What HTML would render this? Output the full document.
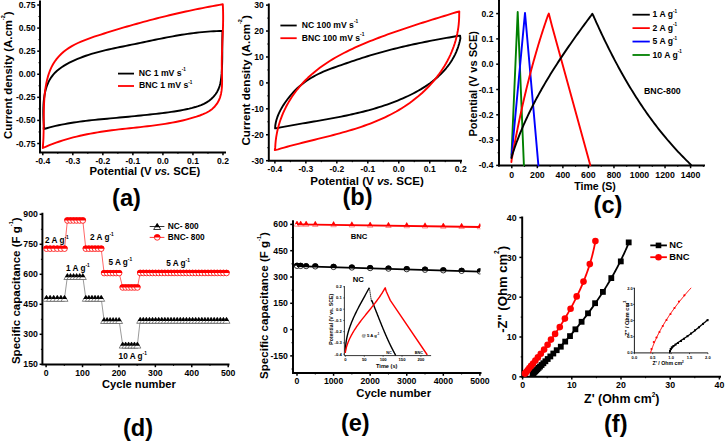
<!DOCTYPE html>
<html><head><meta charset="utf-8"><style>
html,body{margin:0;padding:0;background:#fff;width:725px;height:441px;overflow:hidden}
svg{display:block}
</style></head><body>
<svg width="725" height="441" viewBox="0 0 725 441">
<rect width="725" height="441" fill="#fff"/>
<path d="M40.00,1.50 L40.00,152.40 L225.00,152.40" fill="none" stroke="#000" stroke-width="1.95" stroke-linecap="square" stroke-linejoin="miter"/>
<line x1="37.20" y1="5.00" x2="40.00" y2="5.00" stroke="#000" stroke-width="1.5" stroke-linecap="butt"/>
<line x1="37.20" y1="28.09" x2="40.00" y2="28.09" stroke="#000" stroke-width="1.5" stroke-linecap="butt"/>
<line x1="37.20" y1="51.17" x2="40.00" y2="51.17" stroke="#000" stroke-width="1.5" stroke-linecap="butt"/>
<line x1="37.20" y1="74.25" x2="40.00" y2="74.25" stroke="#000" stroke-width="1.5" stroke-linecap="butt"/>
<line x1="37.20" y1="97.33" x2="40.00" y2="97.33" stroke="#000" stroke-width="1.5" stroke-linecap="butt"/>
<line x1="37.20" y1="120.41" x2="40.00" y2="120.41" stroke="#000" stroke-width="1.5" stroke-linecap="butt"/>
<line x1="37.20" y1="143.50" x2="40.00" y2="143.50" stroke="#000" stroke-width="1.5" stroke-linecap="butt"/>
<line x1="38.50" y1="16.54" x2="40.00" y2="16.54" stroke="#000" stroke-width="1" stroke-linecap="butt"/>
<line x1="38.50" y1="39.63" x2="40.00" y2="39.63" stroke="#000" stroke-width="1" stroke-linecap="butt"/>
<line x1="38.50" y1="62.71" x2="40.00" y2="62.71" stroke="#000" stroke-width="1" stroke-linecap="butt"/>
<line x1="38.50" y1="85.79" x2="40.00" y2="85.79" stroke="#000" stroke-width="1" stroke-linecap="butt"/>
<line x1="38.50" y1="108.87" x2="40.00" y2="108.87" stroke="#000" stroke-width="1" stroke-linecap="butt"/>
<line x1="38.50" y1="131.96" x2="40.00" y2="131.96" stroke="#000" stroke-width="1" stroke-linecap="butt"/>
<line x1="42.80" y1="152.40" x2="42.80" y2="155.20" stroke="#000" stroke-width="1.5" stroke-linecap="butt"/>
<line x1="72.83" y1="152.40" x2="72.83" y2="155.20" stroke="#000" stroke-width="1.5" stroke-linecap="butt"/>
<line x1="102.86" y1="152.40" x2="102.86" y2="155.20" stroke="#000" stroke-width="1.5" stroke-linecap="butt"/>
<line x1="132.89" y1="152.40" x2="132.89" y2="155.20" stroke="#000" stroke-width="1.5" stroke-linecap="butt"/>
<line x1="162.92" y1="152.40" x2="162.92" y2="155.20" stroke="#000" stroke-width="1.5" stroke-linecap="butt"/>
<line x1="192.95" y1="152.40" x2="192.95" y2="155.20" stroke="#000" stroke-width="1.5" stroke-linecap="butt"/>
<line x1="222.98" y1="152.40" x2="222.98" y2="155.20" stroke="#000" stroke-width="1.5" stroke-linecap="butt"/>
<line x1="57.81" y1="152.40" x2="57.81" y2="153.90" stroke="#000" stroke-width="1" stroke-linecap="butt"/>
<line x1="87.84" y1="152.40" x2="87.84" y2="153.90" stroke="#000" stroke-width="1" stroke-linecap="butt"/>
<line x1="117.88" y1="152.40" x2="117.88" y2="153.90" stroke="#000" stroke-width="1" stroke-linecap="butt"/>
<line x1="147.91" y1="152.40" x2="147.91" y2="153.90" stroke="#000" stroke-width="1" stroke-linecap="butt"/>
<line x1="177.94" y1="152.40" x2="177.94" y2="153.90" stroke="#000" stroke-width="1" stroke-linecap="butt"/>
<line x1="207.97" y1="152.40" x2="207.97" y2="153.90" stroke="#000" stroke-width="1" stroke-linecap="butt"/>
<text x="35.50" y="8.00" font-size="8.55" text-anchor="end" fill="#000" font-family="Liberation Sans" font-weight="bold" >0.75</text>
<text x="35.50" y="31.09" font-size="8.55" text-anchor="end" fill="#000" font-family="Liberation Sans" font-weight="bold" >0.50</text>
<text x="35.50" y="54.17" font-size="8.55" text-anchor="end" fill="#000" font-family="Liberation Sans" font-weight="bold" >0.25</text>
<text x="35.50" y="77.25" font-size="8.55" text-anchor="end" fill="#000" font-family="Liberation Sans" font-weight="bold" >0.00</text>
<text x="35.50" y="100.33" font-size="8.55" text-anchor="end" fill="#000" font-family="Liberation Sans" font-weight="bold" >-0.25</text>
<text x="35.50" y="123.41" font-size="8.55" text-anchor="end" fill="#000" font-family="Liberation Sans" font-weight="bold" >-0.50</text>
<text x="35.50" y="146.50" font-size="8.55" text-anchor="end" fill="#000" font-family="Liberation Sans" font-weight="bold" >-0.75</text>
<text x="42.80" y="163.80" font-size="8.55" text-anchor="middle" fill="#000" font-family="Liberation Sans" font-weight="bold" >-0.4</text>
<text x="72.83" y="163.80" font-size="8.55" text-anchor="middle" fill="#000" font-family="Liberation Sans" font-weight="bold" >-0.3</text>
<text x="102.86" y="163.80" font-size="8.55" text-anchor="middle" fill="#000" font-family="Liberation Sans" font-weight="bold" >-0.2</text>
<text x="132.89" y="163.80" font-size="8.55" text-anchor="middle" fill="#000" font-family="Liberation Sans" font-weight="bold" >-0.1</text>
<text x="162.92" y="163.80" font-size="8.55" text-anchor="middle" fill="#000" font-family="Liberation Sans" font-weight="bold" >0.0</text>
<text x="192.95" y="163.80" font-size="8.55" text-anchor="middle" fill="#000" font-family="Liberation Sans" font-weight="bold" >0.1</text>
<text x="222.98" y="163.80" font-size="8.55" text-anchor="middle" fill="#000" font-family="Liberation Sans" font-weight="bold" >0.2</text>
<text x="144.90" y="175.30" font-size="11.25" text-anchor="middle" fill="#000" font-family="Liberation Sans" font-weight="bold" >Potential (V <tspan font-style="italic">vs.</tspan> SCE)</text>
<text transform="translate(12.20,75.15) rotate(-90)" font-size="11.38" text-anchor="middle" fill="#000" font-family="Liberation Sans" font-weight="bold">Current density (A.cm<tspan font-size="5.6" dy="-7.30">-2</tspan><tspan dy="7.30">)</tspan></text>
<text x="126.50" y="205.50" font-size="23.6" text-anchor="middle" fill="#000" font-family="Liberation Sans" font-weight="bold" >(a)</text>
<line x1="118.00" y1="73.60" x2="134.00" y2="73.60" stroke="#000" stroke-width="1.8" stroke-linecap="butt"/>
<line x1="118.00" y1="86.00" x2="134.00" y2="86.00" stroke="#ff0000" stroke-width="1.8" stroke-linecap="butt"/>
<text x="138.70" y="75.60" font-size="8.7" text-anchor="start" fill="#000" font-family="Liberation Sans" font-weight="bold" >NC 1 mV s<tspan font-size="4.6" dy="-4.30">-1</tspan></text>
<text x="139.00" y="88.10" font-size="8.7" text-anchor="start" fill="#000" font-family="Liberation Sans" font-weight="bold" >BNC 1 mV s<tspan font-size="4.6" dy="-4.30">-1</tspan></text>
<path d="M43.70,129.00 L43.86,126.27 L43.68,123.29 L43.52,120.27 L43.39,117.21 L43.31,114.13 L43.29,111.04 L43.34,107.95 L43.46,104.87 L43.67,101.81 L43.98,98.78 L44.40,95.79 L44.95,92.86 L45.62,90.00 L46.44,87.21 L47.41,84.52 L48.55,81.92 L49.87,79.43 L51.37,77.06 L53.07,74.83 L54.97,72.73 L57.05,70.77 L59.28,68.93 L61.65,67.21 L64.14,65.59 L66.72,64.08 L69.38,62.66 L72.08,61.33 L74.81,60.08 L77.56,58.90 L80.32,57.79 L83.09,56.74 L85.87,55.75 L88.67,54.82 L91.47,53.94 L94.29,53.10 L97.12,52.31 L99.95,51.56 L102.80,50.84 L105.65,50.16 L108.52,49.50 L111.39,48.86 L114.27,48.24 L117.15,47.64 L120.05,47.04 L122.95,46.45 L125.85,45.86 L128.76,45.27 L131.68,44.67 L134.60,44.07 L137.53,43.46 L140.45,42.85 L143.39,42.23 L146.32,41.62 L149.26,41.00 L152.20,40.39 L155.14,39.78 L158.09,39.18 L161.03,38.59 L163.98,38.00 L166.92,37.43 L169.87,36.88 L172.81,36.33 L175.75,35.81 L178.70,35.30 L181.63,34.81 L184.57,34.34 L187.51,33.90 L190.44,33.48 L193.36,33.09 L196.29,32.73 L199.20,32.40 L202.12,32.10 L205.03,31.83 L207.93,31.60 L210.83,31.40 L213.71,31.25 L216.60,31.13 L219.47,31.06 L222.50,31.00 L222.50,31.00 L222.41,34.07 L222.35,37.13 L222.31,40.19 L222.30,43.25 L222.29,46.31 L222.29,49.36 L222.29,52.42 L222.27,55.48 L222.24,58.54 L222.18,61.61 L222.10,64.68 L221.97,67.75 L221.80,70.83 L221.58,73.92 L221.29,77.01 L220.91,80.09 L220.36,83.13 L219.60,86.10 L218.56,88.96 L217.21,91.69 L215.56,94.26 L213.64,96.63 L211.49,98.79 L209.13,100.72 L206.59,102.40 L203.91,103.83 L201.11,105.06 L198.22,106.11 L195.27,107.04 L192.29,107.86 L189.30,108.61 L186.31,109.29 L183.31,109.91 L180.30,110.48 L177.29,111.00 L174.28,111.48 L171.25,111.93 L168.23,112.34 L165.19,112.73 L162.16,113.11 L159.12,113.47 L156.08,113.82 L153.03,114.17 L149.98,114.50 L146.93,114.83 L143.87,115.16 L140.82,115.48 L137.76,115.79 L134.70,116.10 L131.64,116.40 L128.57,116.70 L125.51,116.99 L122.45,117.28 L119.39,117.57 L116.32,117.85 L113.26,118.13 L110.20,118.41 L107.14,118.68 L104.08,118.97 L101.03,119.26 L97.97,119.55 L94.92,119.86 L91.87,120.18 L88.83,120.52 L85.79,120.87 L82.75,121.25 L79.71,121.64 L76.68,122.07 L73.66,122.52 L70.64,123.00 L67.62,123.51 L64.61,124.06 L61.61,124.65 L58.61,125.27 L55.62,125.94 L52.63,126.65 L49.66,127.41 L46.69,128.22 L43.70,129.00" fill="none" stroke="#000" stroke-width="1.9" stroke-linejoin="round" stroke-linecap="round" />
<path d="M42.80,148.00 L43.02,144.79 L43.25,141.63 L43.42,138.39 L43.53,135.09 L43.61,131.73 L43.66,128.33 L43.69,124.88 L43.71,121.40 L43.73,117.89 L43.77,114.36 L43.83,110.82 L43.92,107.28 L44.05,103.74 L44.24,100.21 L44.50,96.69 L44.83,93.21 L45.24,89.75 L45.76,86.34 L46.38,82.97 L47.11,79.66 L47.97,76.41 L48.98,73.24 L50.15,70.15 L51.49,67.15 L53.02,64.26 L54.76,61.49 L56.70,58.84 L58.84,56.34 L61.15,53.98 L63.62,51.79 L66.24,49.75 L68.99,47.87 L71.86,46.13 L74.84,44.51 L77.91,43.00 L81.06,41.60 L84.27,40.28 L87.53,39.04 L90.84,37.85 L94.16,36.72 L97.50,35.63 L100.84,34.55 L104.16,33.50 L107.47,32.46 L110.77,31.43 L114.06,30.42 L117.35,29.42 L120.62,28.43 L123.89,27.46 L127.15,26.51 L130.40,25.56 L133.65,24.63 L136.90,23.72 L140.15,22.82 L143.39,21.93 L146.63,21.05 L149.87,20.19 L153.11,19.34 L156.35,18.50 L159.60,17.67 L162.85,16.86 L166.10,16.06 L169.36,15.28 L172.62,14.50 L175.89,13.74 L179.17,12.99 L182.46,12.25 L185.75,11.52 L189.06,10.81 L192.38,10.10 L195.70,9.41 L199.05,8.73 L202.40,8.06 L205.77,7.40 L209.16,6.75 L212.56,6.12 L215.98,5.49 L219.42,4.88 L222.80,4.30 L222.80,4.30 L222.97,8.05 L223.08,11.74 L223.13,15.39 L223.14,19.00 L223.09,22.57 L223.02,26.11 L222.91,29.63 L222.78,33.12 L222.64,36.61 L222.49,40.09 L222.34,43.56 L222.19,47.05 L222.06,50.54 L221.94,54.05 L221.85,57.58 L221.80,61.14 L221.78,64.74 L221.82,68.38 L221.90,72.06 L222.01,75.78 L222.08,79.50 L222.08,83.20 L221.93,86.87 L221.60,90.46 L221.01,93.96 L220.10,97.35 L218.78,100.59 L217.00,103.65 L214.81,106.45 L212.28,108.92 L209.45,111.01 L206.39,112.75 L203.16,114.22 L199.81,115.50 L196.41,116.64 L192.98,117.70 L189.54,118.69 L186.09,119.61 L182.62,120.46 L179.14,121.25 L175.65,121.98 L172.15,122.65 L168.64,123.28 L165.11,123.86 L161.58,124.41 L158.04,124.92 L154.50,125.39 L150.95,125.84 L147.39,126.27 L143.83,126.68 L140.27,127.08 L136.70,127.46 L133.14,127.85 L129.57,128.23 L126.00,128.61 L122.43,129.01 L118.87,129.42 L115.31,129.84 L111.75,130.29 L108.20,130.76 L104.65,131.26 L101.12,131.78 L97.58,132.34 L94.06,132.94 L90.54,133.58 L87.04,134.25 L83.55,134.97 L80.06,135.74 L76.60,136.56 L73.14,137.43 L69.70,138.35 L66.27,139.33 L62.87,140.38 L59.47,141.48 L56.10,142.65 L52.75,143.89 L49.41,145.21 L46.10,146.59 L42.80,148.00" fill="none" stroke="#ff0000" stroke-width="1.9" stroke-linejoin="round" stroke-linecap="round" />
<path d="M268.80,4.50 L268.80,160.70 L461.00,160.70" fill="none" stroke="#000" stroke-width="1.95" stroke-linecap="square" stroke-linejoin="miter"/>
<line x1="266.00" y1="5.11" x2="268.80" y2="5.11" stroke="#000" stroke-width="1.5" stroke-linecap="butt"/>
<line x1="266.00" y1="31.04" x2="268.80" y2="31.04" stroke="#000" stroke-width="1.5" stroke-linecap="butt"/>
<line x1="266.00" y1="56.97" x2="268.80" y2="56.97" stroke="#000" stroke-width="1.5" stroke-linecap="butt"/>
<line x1="266.00" y1="82.90" x2="268.80" y2="82.90" stroke="#000" stroke-width="1.5" stroke-linecap="butt"/>
<line x1="266.00" y1="108.83" x2="268.80" y2="108.83" stroke="#000" stroke-width="1.5" stroke-linecap="butt"/>
<line x1="266.00" y1="134.76" x2="268.80" y2="134.76" stroke="#000" stroke-width="1.5" stroke-linecap="butt"/>
<line x1="266.00" y1="160.69" x2="268.80" y2="160.69" stroke="#000" stroke-width="1.5" stroke-linecap="butt"/>
<line x1="267.30" y1="18.08" x2="268.80" y2="18.08" stroke="#000" stroke-width="1" stroke-linecap="butt"/>
<line x1="267.30" y1="44.01" x2="268.80" y2="44.01" stroke="#000" stroke-width="1" stroke-linecap="butt"/>
<line x1="267.30" y1="69.94" x2="268.80" y2="69.94" stroke="#000" stroke-width="1" stroke-linecap="butt"/>
<line x1="267.30" y1="95.87" x2="268.80" y2="95.87" stroke="#000" stroke-width="1" stroke-linecap="butt"/>
<line x1="267.30" y1="121.80" x2="268.80" y2="121.80" stroke="#000" stroke-width="1" stroke-linecap="butt"/>
<line x1="267.30" y1="147.73" x2="268.80" y2="147.73" stroke="#000" stroke-width="1" stroke-linecap="butt"/>
<line x1="274.90" y1="160.70" x2="274.90" y2="163.50" stroke="#000" stroke-width="1.5" stroke-linecap="butt"/>
<line x1="305.87" y1="160.70" x2="305.87" y2="163.50" stroke="#000" stroke-width="1.5" stroke-linecap="butt"/>
<line x1="336.84" y1="160.70" x2="336.84" y2="163.50" stroke="#000" stroke-width="1.5" stroke-linecap="butt"/>
<line x1="367.81" y1="160.70" x2="367.81" y2="163.50" stroke="#000" stroke-width="1.5" stroke-linecap="butt"/>
<line x1="398.78" y1="160.70" x2="398.78" y2="163.50" stroke="#000" stroke-width="1.5" stroke-linecap="butt"/>
<line x1="429.75" y1="160.70" x2="429.75" y2="163.50" stroke="#000" stroke-width="1.5" stroke-linecap="butt"/>
<line x1="460.72" y1="160.70" x2="460.72" y2="163.50" stroke="#000" stroke-width="1.5" stroke-linecap="butt"/>
<line x1="290.38" y1="160.70" x2="290.38" y2="162.20" stroke="#000" stroke-width="1" stroke-linecap="butt"/>
<line x1="321.35" y1="160.70" x2="321.35" y2="162.20" stroke="#000" stroke-width="1" stroke-linecap="butt"/>
<line x1="352.32" y1="160.70" x2="352.32" y2="162.20" stroke="#000" stroke-width="1" stroke-linecap="butt"/>
<line x1="383.29" y1="160.70" x2="383.29" y2="162.20" stroke="#000" stroke-width="1" stroke-linecap="butt"/>
<line x1="414.26" y1="160.70" x2="414.26" y2="162.20" stroke="#000" stroke-width="1" stroke-linecap="butt"/>
<line x1="445.24" y1="160.70" x2="445.24" y2="162.20" stroke="#000" stroke-width="1" stroke-linecap="butt"/>
<text x="263.80" y="8.11" font-size="8.6" text-anchor="end" fill="#000" font-family="Liberation Sans" font-weight="bold" >30</text>
<text x="263.80" y="34.04" font-size="8.6" text-anchor="end" fill="#000" font-family="Liberation Sans" font-weight="bold" >20</text>
<text x="263.80" y="59.97" font-size="8.6" text-anchor="end" fill="#000" font-family="Liberation Sans" font-weight="bold" >10</text>
<text x="263.80" y="85.90" font-size="8.6" text-anchor="end" fill="#000" font-family="Liberation Sans" font-weight="bold" >0</text>
<text x="263.80" y="111.83" font-size="8.6" text-anchor="end" fill="#000" font-family="Liberation Sans" font-weight="bold" >-10</text>
<text x="263.80" y="137.76" font-size="8.6" text-anchor="end" fill="#000" font-family="Liberation Sans" font-weight="bold" >-20</text>
<text x="263.80" y="163.69" font-size="8.6" text-anchor="end" fill="#000" font-family="Liberation Sans" font-weight="bold" >-30</text>
<text x="274.90" y="172.30" font-size="8.55" text-anchor="middle" fill="#000" font-family="Liberation Sans" font-weight="bold" >-0.4</text>
<text x="305.87" y="172.30" font-size="8.55" text-anchor="middle" fill="#000" font-family="Liberation Sans" font-weight="bold" >-0.3</text>
<text x="336.84" y="172.30" font-size="8.55" text-anchor="middle" fill="#000" font-family="Liberation Sans" font-weight="bold" >-0.2</text>
<text x="367.81" y="172.30" font-size="8.55" text-anchor="middle" fill="#000" font-family="Liberation Sans" font-weight="bold" >-0.1</text>
<text x="398.78" y="172.30" font-size="8.55" text-anchor="middle" fill="#000" font-family="Liberation Sans" font-weight="bold" >0.0</text>
<text x="429.75" y="172.30" font-size="8.55" text-anchor="middle" fill="#000" font-family="Liberation Sans" font-weight="bold" >0.1</text>
<text x="460.72" y="172.30" font-size="8.55" text-anchor="middle" fill="#000" font-family="Liberation Sans" font-weight="bold" >0.2</text>
<text x="367.00" y="184.80" font-size="11.55" text-anchor="middle" fill="#000" font-family="Liberation Sans" font-weight="bold" >Potential (V <tspan font-style="italic">vs.</tspan> SCE)</text>
<text transform="translate(249.60,80.35) rotate(-90)" font-size="11.65" text-anchor="middle" fill="#000" font-family="Liberation Sans" font-weight="bold">Current density (A.cm<tspan font-size="5.6" dy="-7.30">-2</tspan><tspan dy="7.30">)</tspan></text>
<text x="357.50" y="205.00" font-size="23.6" text-anchor="middle" fill="#000" font-family="Liberation Sans" font-weight="bold" >(b)</text>
<line x1="280.40" y1="25.50" x2="296.70" y2="25.50" stroke="#000" stroke-width="1.8" stroke-linecap="butt"/>
<line x1="280.40" y1="38.20" x2="296.70" y2="38.20" stroke="#ff0000" stroke-width="1.8" stroke-linecap="butt"/>
<text x="301.80" y="27.80" font-size="8.6" text-anchor="start" fill="#000" font-family="Liberation Sans" font-weight="bold" >NC 100 mV s<tspan font-size="4.8" dy="-4.60">-1</tspan></text>
<text x="301.80" y="40.90" font-size="8.6" text-anchor="start" fill="#000" font-family="Liberation Sans" font-weight="bold" >BNC 100 mV s<tspan font-size="4.8" dy="-4.60">-1</tspan></text>
<path d="M275.10,128.30 L275.28,125.47 L275.76,122.74 L276.42,120.06 L277.25,117.43 L278.23,114.86 L279.35,112.34 L280.60,109.88 L281.96,107.46 L283.42,105.10 L284.96,102.78 L286.58,100.52 L288.25,98.30 L289.98,96.13 L291.76,94.01 L293.61,91.95 L295.52,89.96 L297.52,88.03 L299.60,86.17 L301.75,84.39 L303.97,82.68 L306.26,81.04 L308.59,79.48 L310.98,77.99 L313.40,76.58 L315.85,75.25 L318.33,73.99 L320.82,72.81 L323.32,71.70 L325.84,70.65 L328.37,69.65 L330.91,68.69 L333.47,67.76 L336.03,66.85 L338.61,65.95 L341.19,65.05 L343.79,64.14 L346.39,63.24 L349.01,62.33 L351.63,61.43 L354.26,60.54 L356.90,59.66 L359.55,58.79 L362.21,57.94 L364.87,57.09 L367.54,56.27 L370.22,55.45 L372.90,54.65 L375.59,53.87 L378.29,53.09 L380.99,52.34 L383.69,51.59 L386.40,50.86 L389.12,50.14 L391.83,49.43 L394.55,48.74 L397.28,48.07 L400.01,47.40 L402.73,46.75 L405.47,46.12 L408.20,45.49 L410.93,44.88 L413.67,44.28 L416.41,43.70 L419.14,43.12 L421.88,42.56 L424.62,42.00 L427.35,41.46 L430.09,40.92 L432.82,40.40 L435.55,39.89 L438.28,39.38 L441.01,38.88 L443.73,38.39 L446.45,37.91 L449.17,37.44 L451.89,36.97 L454.60,36.51 L457.30,36.05 L460.10,35.60 L460.10,35.60 L460.40,38.42 L459.78,41.29 L459.04,44.09 L458.19,46.81 L457.23,49.47 L456.17,52.05 L455.01,54.57 L453.75,57.02 L452.40,59.40 L450.95,61.71 L449.42,63.96 L447.81,66.15 L446.11,68.27 L444.34,70.34 L442.49,72.34 L440.57,74.29 L438.58,76.18 L436.53,78.01 L434.42,79.78 L432.25,81.51 L430.03,83.17 L427.75,84.79 L425.43,86.36 L423.06,87.87 L420.65,89.34 L418.20,90.76 L415.72,92.14 L413.21,93.47 L410.66,94.75 L408.10,96.00 L405.51,97.20 L402.90,98.36 L400.28,99.48 L397.65,100.57 L395.01,101.61 L392.36,102.62 L389.71,103.60 L387.05,104.54 L384.39,105.45 L381.73,106.33 L379.06,107.18 L376.38,108.00 L373.70,108.80 L371.02,109.56 L368.33,110.30 L365.64,111.02 L362.94,111.71 L360.24,112.39 L357.54,113.04 L354.83,113.67 L352.12,114.28 L349.40,114.87 L346.68,115.45 L343.96,116.01 L341.23,116.56 L338.50,117.10 L335.77,117.63 L333.04,118.14 L330.30,118.64 L327.56,119.14 L324.81,119.63 L322.07,120.11 L319.32,120.59 L316.56,121.07 L313.81,121.54 L311.05,122.01 L308.29,122.48 L305.53,122.96 L302.77,123.43 L300.00,123.91 L297.24,124.39 L294.47,124.88 L291.69,125.37 L288.92,125.87 L286.15,126.38 L283.37,126.90 L280.59,127.44 L277.81,127.98 L275.10,128.30" fill="none" stroke="#000" stroke-width="1.9" stroke-linejoin="round" stroke-linecap="round" />
<path d="M274.80,150.10 L275.23,147.16 L275.43,143.90 L275.74,140.67 L276.16,137.47 L276.68,134.31 L277.30,131.18 L278.02,128.09 L278.84,125.04 L279.76,122.02 L280.77,119.05 L281.87,116.11 L283.06,113.22 L284.34,110.37 L285.70,107.56 L287.15,104.80 L288.67,102.09 L290.28,99.43 L291.96,96.81 L293.72,94.25 L295.54,91.74 L297.44,89.28 L299.41,86.87 L301.44,84.52 L303.53,82.23 L305.69,80.00 L307.91,77.82 L310.18,75.71 L312.51,73.65 L314.89,71.65 L317.32,69.71 L319.80,67.82 L322.32,65.99 L324.89,64.20 L327.50,62.47 L330.15,60.78 L332.83,59.14 L335.55,57.54 L338.30,55.99 L341.08,54.47 L343.88,53.00 L346.71,51.56 L349.57,50.16 L352.44,48.79 L355.33,47.46 L358.23,46.15 L361.15,44.88 L364.08,43.63 L367.02,42.41 L369.96,41.21 L372.91,40.04 L375.86,38.89 L378.81,37.75 L381.76,36.64 L384.71,35.54 L387.66,34.46 L390.61,33.40 L393.57,32.35 L396.52,31.31 L399.48,30.29 L402.44,29.28 L405.40,28.29 L408.37,27.30 L411.33,26.32 L414.30,25.36 L417.27,24.40 L420.24,23.44 L423.22,22.50 L426.20,21.56 L429.18,20.62 L432.17,19.69 L435.16,18.75 L438.16,17.83 L441.16,16.90 L444.16,15.97 L447.17,15.04 L450.18,14.11 L453.20,13.18 L456.22,12.24 L459.30,11.40 L459.30,11.40 L459.19,14.39 L459.14,17.73 L458.97,21.03 L458.70,24.31 L458.31,27.55 L457.81,30.75 L457.21,33.92 L456.51,37.05 L455.71,40.15 L454.81,43.21 L453.81,46.23 L452.72,49.20 L451.54,52.14 L450.27,55.04 L448.91,57.89 L447.47,60.70 L445.95,63.47 L444.35,66.19 L442.67,68.87 L440.91,71.50 L439.08,74.08 L437.18,76.61 L435.22,79.10 L433.18,81.53 L431.09,83.92 L428.93,86.25 L426.71,88.53 L424.43,90.76 L422.10,92.93 L419.72,95.05 L417.29,97.11 L414.81,99.11 L412.29,101.06 L409.72,102.95 L407.11,104.78 L404.47,106.55 L401.78,108.26 L399.07,109.91 L396.32,111.51 L393.54,113.04 L390.72,114.52 L387.88,115.95 L385.01,117.33 L382.12,118.66 L379.20,119.94 L376.26,121.18 L373.30,122.38 L370.31,123.54 L367.31,124.66 L364.29,125.74 L361.25,126.79 L358.20,127.80 L355.13,128.79 L352.06,129.74 L348.97,130.67 L345.87,131.58 L342.77,132.46 L339.65,133.32 L336.54,134.17 L333.42,135.00 L330.29,135.81 L327.17,136.61 L324.05,137.40 L320.92,138.18 L317.80,138.95 L314.69,139.72 L311.58,140.49 L308.48,141.25 L305.39,142.02 L302.31,142.79 L299.24,143.56 L296.18,144.35 L293.14,145.14 L290.11,145.94 L287.10,146.76 L284.11,147.59 L281.14,148.44 L278.19,149.30 L274.80,150.10" fill="none" stroke="#ff0000" stroke-width="1.9" stroke-linejoin="round" stroke-linecap="round" />
<path d="M499.00,0.50 L499.00,165.40 L704.00,165.40" fill="none" stroke="#000" stroke-width="1.95" stroke-linecap="square" stroke-linejoin="miter"/>
<line x1="496.20" y1="13.60" x2="499.00" y2="13.60" stroke="#000" stroke-width="1.5" stroke-linecap="butt"/>
<line x1="496.20" y1="38.90" x2="499.00" y2="38.90" stroke="#000" stroke-width="1.5" stroke-linecap="butt"/>
<line x1="496.20" y1="64.20" x2="499.00" y2="64.20" stroke="#000" stroke-width="1.5" stroke-linecap="butt"/>
<line x1="496.20" y1="89.50" x2="499.00" y2="89.50" stroke="#000" stroke-width="1.5" stroke-linecap="butt"/>
<line x1="496.20" y1="114.80" x2="499.00" y2="114.80" stroke="#000" stroke-width="1.5" stroke-linecap="butt"/>
<line x1="496.20" y1="140.10" x2="499.00" y2="140.10" stroke="#000" stroke-width="1.5" stroke-linecap="butt"/>
<line x1="496.20" y1="165.40" x2="499.00" y2="165.40" stroke="#000" stroke-width="1.5" stroke-linecap="butt"/>
<line x1="497.50" y1="26.25" x2="499.00" y2="26.25" stroke="#000" stroke-width="1" stroke-linecap="butt"/>
<line x1="497.50" y1="51.55" x2="499.00" y2="51.55" stroke="#000" stroke-width="1" stroke-linecap="butt"/>
<line x1="497.50" y1="76.85" x2="499.00" y2="76.85" stroke="#000" stroke-width="1" stroke-linecap="butt"/>
<line x1="497.50" y1="102.15" x2="499.00" y2="102.15" stroke="#000" stroke-width="1" stroke-linecap="butt"/>
<line x1="497.50" y1="127.45" x2="499.00" y2="127.45" stroke="#000" stroke-width="1" stroke-linecap="butt"/>
<line x1="497.50" y1="152.75" x2="499.00" y2="152.75" stroke="#000" stroke-width="1" stroke-linecap="butt"/>
<line x1="511.80" y1="165.40" x2="511.80" y2="168.20" stroke="#000" stroke-width="1.5" stroke-linecap="butt"/>
<line x1="537.34" y1="165.40" x2="537.34" y2="168.20" stroke="#000" stroke-width="1.5" stroke-linecap="butt"/>
<line x1="562.88" y1="165.40" x2="562.88" y2="168.20" stroke="#000" stroke-width="1.5" stroke-linecap="butt"/>
<line x1="588.42" y1="165.40" x2="588.42" y2="168.20" stroke="#000" stroke-width="1.5" stroke-linecap="butt"/>
<line x1="613.96" y1="165.40" x2="613.96" y2="168.20" stroke="#000" stroke-width="1.5" stroke-linecap="butt"/>
<line x1="639.50" y1="165.40" x2="639.50" y2="168.20" stroke="#000" stroke-width="1.5" stroke-linecap="butt"/>
<line x1="665.04" y1="165.40" x2="665.04" y2="168.20" stroke="#000" stroke-width="1.5" stroke-linecap="butt"/>
<line x1="690.58" y1="165.40" x2="690.58" y2="168.20" stroke="#000" stroke-width="1.5" stroke-linecap="butt"/>
<line x1="499.03" y1="165.40" x2="499.03" y2="166.90" stroke="#000" stroke-width="1" stroke-linecap="butt"/>
<line x1="524.57" y1="165.40" x2="524.57" y2="166.90" stroke="#000" stroke-width="1" stroke-linecap="butt"/>
<line x1="550.11" y1="165.40" x2="550.11" y2="166.90" stroke="#000" stroke-width="1" stroke-linecap="butt"/>
<line x1="575.65" y1="165.40" x2="575.65" y2="166.90" stroke="#000" stroke-width="1" stroke-linecap="butt"/>
<line x1="601.19" y1="165.40" x2="601.19" y2="166.90" stroke="#000" stroke-width="1" stroke-linecap="butt"/>
<line x1="626.73" y1="165.40" x2="626.73" y2="166.90" stroke="#000" stroke-width="1" stroke-linecap="butt"/>
<line x1="652.27" y1="165.40" x2="652.27" y2="166.90" stroke="#000" stroke-width="1" stroke-linecap="butt"/>
<line x1="677.81" y1="165.40" x2="677.81" y2="166.90" stroke="#000" stroke-width="1" stroke-linecap="butt"/>
<line x1="703.35" y1="165.40" x2="703.35" y2="166.90" stroke="#000" stroke-width="1" stroke-linecap="butt"/>
<text x="493.50" y="16.60" font-size="8.55" text-anchor="end" fill="#000" font-family="Liberation Sans" font-weight="bold" >0.2</text>
<text x="493.50" y="41.90" font-size="8.55" text-anchor="end" fill="#000" font-family="Liberation Sans" font-weight="bold" >0.1</text>
<text x="493.50" y="67.20" font-size="8.55" text-anchor="end" fill="#000" font-family="Liberation Sans" font-weight="bold" >0.0</text>
<text x="493.50" y="92.50" font-size="8.55" text-anchor="end" fill="#000" font-family="Liberation Sans" font-weight="bold" >-0.1</text>
<text x="493.50" y="117.80" font-size="8.55" text-anchor="end" fill="#000" font-family="Liberation Sans" font-weight="bold" >-0.2</text>
<text x="493.50" y="143.10" font-size="8.55" text-anchor="end" fill="#000" font-family="Liberation Sans" font-weight="bold" >-0.3</text>
<text x="493.50" y="168.40" font-size="8.55" text-anchor="end" fill="#000" font-family="Liberation Sans" font-weight="bold" >-0.4</text>
<text x="511.80" y="177.60" font-size="8.75" text-anchor="middle" fill="#000" font-family="Liberation Sans" font-weight="bold" >0</text>
<text x="537.34" y="177.60" font-size="8.75" text-anchor="middle" fill="#000" font-family="Liberation Sans" font-weight="bold" >200</text>
<text x="562.88" y="177.60" font-size="8.75" text-anchor="middle" fill="#000" font-family="Liberation Sans" font-weight="bold" >400</text>
<text x="588.42" y="177.60" font-size="8.75" text-anchor="middle" fill="#000" font-family="Liberation Sans" font-weight="bold" >600</text>
<text x="613.96" y="177.60" font-size="8.75" text-anchor="middle" fill="#000" font-family="Liberation Sans" font-weight="bold" >800</text>
<text x="639.50" y="177.60" font-size="8.75" text-anchor="middle" fill="#000" font-family="Liberation Sans" font-weight="bold" >1000</text>
<text x="665.04" y="177.60" font-size="8.75" text-anchor="middle" fill="#000" font-family="Liberation Sans" font-weight="bold" >1200</text>
<text x="690.58" y="177.60" font-size="8.75" text-anchor="middle" fill="#000" font-family="Liberation Sans" font-weight="bold" >1400</text>
<text x="595.00" y="189.60" font-size="10.55" text-anchor="middle" fill="#000" font-family="Liberation Sans" font-weight="bold" >Time (S)</text>
<text transform="translate(477.40,83.75) rotate(-90)" font-size="11.05" text-anchor="middle" fill="#000" font-family="Liberation Sans" font-weight="bold">Potential (V vs SCE)</text>
<text x="608.00" y="212.90" font-size="23.6" text-anchor="middle" fill="#000" font-family="Liberation Sans" font-weight="bold" >(c)</text>
<line x1="632.50" y1="14.70" x2="649.80" y2="14.70" stroke="#000" stroke-width="1.8" stroke-linecap="butt"/>
<text x="652.60" y="17.40" font-size="8.6" text-anchor="start" fill="#000" font-family="Liberation Sans" font-weight="bold" >1 A g<tspan font-size="4.6" dy="-4.40">-1</tspan></text>
<line x1="632.50" y1="28.13" x2="649.80" y2="28.13" stroke="#ff0000" stroke-width="1.8" stroke-linecap="butt"/>
<text x="652.60" y="30.83" font-size="8.6" text-anchor="start" fill="#000" font-family="Liberation Sans" font-weight="bold" >2 A g<tspan font-size="4.6" dy="-4.40">-1</tspan></text>
<line x1="632.50" y1="41.56" x2="649.80" y2="41.56" stroke="#0000ff" stroke-width="1.8" stroke-linecap="butt"/>
<text x="652.60" y="44.26" font-size="8.6" text-anchor="start" fill="#000" font-family="Liberation Sans" font-weight="bold" >5 A g<tspan font-size="4.6" dy="-4.40">-1</tspan></text>
<line x1="632.50" y1="54.99" x2="649.80" y2="54.99" stroke="#008000" stroke-width="1.8" stroke-linecap="butt"/>
<text x="652.60" y="57.69" font-size="8.6" text-anchor="start" fill="#000" font-family="Liberation Sans" font-weight="bold" >10 A g<tspan font-size="4.6" dy="-4.40">-1</tspan></text>
<text x="644.00" y="93.80" font-size="8.8" text-anchor="start" fill="#000" font-family="Liberation Sans" font-weight="bold" >BNC-800</text>
<path d="M511.5,155 L517.7,12 L523.9,165.3" fill="none" stroke="#008000" stroke-width="1.9" stroke-linejoin="round" stroke-linecap="round" />
<path d="M511.5,157 L525,12.9 L538.4,165.3" fill="none" stroke="#0000ff" stroke-width="1.9" stroke-linejoin="round" stroke-linecap="round" />
<path d="M511.40,162.00 L511.58,160.05 L511.92,158.15 L512.27,156.24 L512.61,154.34 L512.96,152.43 L513.32,150.53 L513.67,148.62 L514.03,146.72 L514.39,144.81 L514.76,142.91 L515.12,141.00 L515.49,139.10 L515.86,137.20 L516.24,135.29 L516.62,133.39 L517.00,131.49 L517.38,129.59 L517.77,127.68 L518.16,125.78 L518.55,123.88 L518.95,121.98 L519.35,120.08 L519.75,118.19 L520.16,116.29 L520.57,114.39 L520.98,112.49 L521.39,110.60 L521.81,108.70 L522.24,106.81 L522.66,104.91 L523.09,103.02 L523.53,101.13 L523.96,99.23 L524.40,97.34 L524.85,95.45 L525.30,93.56 L525.75,91.68 L526.20,89.79 L526.66,87.90 L527.13,86.02 L527.59,84.13 L528.06,82.25 L528.54,80.37 L529.02,78.49 L529.50,76.61 L529.99,74.73 L530.48,72.85 L530.97,70.97 L531.47,69.10 L531.98,67.22 L532.48,65.35 L533.00,63.48 L533.51,61.61 L534.03,59.74 L534.56,57.88 L535.09,56.01 L535.62,54.14 L536.16,52.28 L536.71,50.42 L537.25,48.56 L537.81,46.70 L538.36,44.84 L538.93,42.99 L539.49,41.14 L540.06,39.28 L540.64,37.43 L541.22,35.58 L541.81,33.74 L542.40,31.89 L542.99,30.05 L543.59,28.21 L544.20,26.37 L544.81,24.53 L545.43,22.69 L546.05,20.86 L546.68,19.02 L547.31,17.19 L547.94,15.37 L548.80,13.60 L552,26 L590.3,165.3" fill="none" stroke="#ff0000" stroke-width="1.9" stroke-linejoin="round" stroke-linecap="round" />
<path d="M511.40,158.00 L511.90,156.00 L512.55,153.98 L513.21,151.97 L513.88,149.97 L514.57,147.98 L515.27,145.99 L515.99,144.00 L516.71,142.02 L517.46,140.05 L518.21,138.08 L518.98,136.12 L519.75,134.17 L520.55,132.22 L521.35,130.28 L522.17,128.34 L523.00,126.40 L523.84,124.48 L524.69,122.56 L525.55,120.64 L526.43,118.73 L527.31,116.82 L528.21,114.92 L529.12,113.03 L530.03,111.14 L530.96,109.25 L531.90,107.37 L532.85,105.50 L533.81,103.63 L534.78,101.76 L535.76,99.90 L536.75,98.05 L537.75,96.20 L538.76,94.35 L539.77,92.51 L540.80,90.67 L541.84,88.84 L542.88,87.02 L543.93,85.19 L544.99,83.38 L546.06,81.56 L547.14,79.75 L548.22,77.95 L549.31,76.15 L550.41,74.35 L551.52,72.56 L552.63,70.77 L553.75,68.99 L554.88,67.21 L556.02,65.43 L557.16,63.66 L558.31,61.89 L559.46,60.13 L560.62,58.37 L561.79,56.61 L562.96,54.86 L564.14,53.11 L565.32,51.36 L566.51,49.62 L567.70,47.88 L568.90,46.15 L570.10,44.42 L571.31,42.69 L572.52,40.96 L573.74,39.24 L574.96,37.53 L576.18,35.81 L577.41,34.10 L578.64,32.39 L579.88,30.69 L581.12,28.98 L582.36,27.28 L583.61,25.59 L584.86,23.89 L586.11,22.20 L587.36,20.52 L588.62,18.83 L589.88,17.15 L591.14,15.47 L592.30,13.70 L592.30,13.70 L593.36,15.74 L594.30,17.84 L595.24,19.94 L596.18,22.03 L597.13,24.13 L598.09,26.22 L599.05,28.31 L600.02,30.40 L601.00,32.49 L601.98,34.57 L602.97,36.65 L603.96,38.73 L604.97,40.80 L605.97,42.87 L606.99,44.94 L608.01,47.01 L609.04,49.07 L610.08,51.12 L611.12,53.18 L612.17,55.23 L613.23,57.27 L614.30,59.32 L615.37,61.35 L616.45,63.39 L617.54,65.42 L618.64,67.44 L619.74,69.46 L620.86,71.48 L621.98,73.49 L623.11,75.49 L624.25,77.49 L625.40,79.48 L626.56,81.47 L627.72,83.46 L628.90,85.43 L630.08,87.41 L631.27,89.37 L632.48,91.33 L633.69,93.28 L634.91,95.23 L636.14,97.17 L637.38,99.11 L638.63,101.03 L639.90,102.95 L641.17,104.87 L642.45,106.77 L643.74,108.67 L645.04,110.57 L646.35,112.45 L647.68,114.33 L649.01,116.20 L650.35,118.06 L651.71,119.91 L653.08,121.76 L654.46,123.59 L655.84,125.42 L657.24,127.24 L658.66,129.06 L660.08,130.86 L661.52,132.65 L662.96,134.44 L664.42,136.22 L665.89,137.98 L667.38,139.74 L668.87,141.49 L670.38,143.23 L671.90,144.96 L673.43,146.68 L674.98,148.39 L676.54,150.09 L678.11,151.78 L679.69,153.46 L681.29,155.13 L682.90,156.78 L684.52,158.43 L686.16,160.07 L687.81,161.69 L689.47,163.31 L691.00,165.00" fill="none" stroke="#000" stroke-width="1.9" stroke-linejoin="round" stroke-linecap="round" />
<path d="M42.40,213.80 L42.40,364.40 L228.50,364.40" fill="none" stroke="#000" stroke-width="1.95" stroke-linecap="square" stroke-linejoin="miter"/>
<line x1="39.60" y1="214.30" x2="42.40" y2="214.30" stroke="#000" stroke-width="1.5" stroke-linecap="butt"/>
<line x1="39.60" y1="244.30" x2="42.40" y2="244.30" stroke="#000" stroke-width="1.5" stroke-linecap="butt"/>
<line x1="39.60" y1="274.30" x2="42.40" y2="274.30" stroke="#000" stroke-width="1.5" stroke-linecap="butt"/>
<line x1="39.60" y1="304.30" x2="42.40" y2="304.30" stroke="#000" stroke-width="1.5" stroke-linecap="butt"/>
<line x1="39.60" y1="334.30" x2="42.40" y2="334.30" stroke="#000" stroke-width="1.5" stroke-linecap="butt"/>
<line x1="39.60" y1="364.30" x2="42.40" y2="364.30" stroke="#000" stroke-width="1.5" stroke-linecap="butt"/>
<line x1="40.90" y1="229.30" x2="42.40" y2="229.30" stroke="#000" stroke-width="1" stroke-linecap="butt"/>
<line x1="40.90" y1="259.30" x2="42.40" y2="259.30" stroke="#000" stroke-width="1" stroke-linecap="butt"/>
<line x1="40.90" y1="289.30" x2="42.40" y2="289.30" stroke="#000" stroke-width="1" stroke-linecap="butt"/>
<line x1="40.90" y1="319.30" x2="42.40" y2="319.30" stroke="#000" stroke-width="1" stroke-linecap="butt"/>
<line x1="40.90" y1="349.30" x2="42.40" y2="349.30" stroke="#000" stroke-width="1" stroke-linecap="butt"/>
<line x1="46.10" y1="364.40" x2="46.10" y2="367.20" stroke="#000" stroke-width="1.5" stroke-linecap="butt"/>
<line x1="82.52" y1="364.40" x2="82.52" y2="367.20" stroke="#000" stroke-width="1.5" stroke-linecap="butt"/>
<line x1="118.94" y1="364.40" x2="118.94" y2="367.20" stroke="#000" stroke-width="1.5" stroke-linecap="butt"/>
<line x1="155.36" y1="364.40" x2="155.36" y2="367.20" stroke="#000" stroke-width="1.5" stroke-linecap="butt"/>
<line x1="191.78" y1="364.40" x2="191.78" y2="367.20" stroke="#000" stroke-width="1.5" stroke-linecap="butt"/>
<line x1="228.20" y1="364.40" x2="228.20" y2="367.20" stroke="#000" stroke-width="1.5" stroke-linecap="butt"/>
<line x1="64.31" y1="364.40" x2="64.31" y2="365.90" stroke="#000" stroke-width="1" stroke-linecap="butt"/>
<line x1="100.73" y1="364.40" x2="100.73" y2="365.90" stroke="#000" stroke-width="1" stroke-linecap="butt"/>
<line x1="137.15" y1="364.40" x2="137.15" y2="365.90" stroke="#000" stroke-width="1" stroke-linecap="butt"/>
<line x1="173.57" y1="364.40" x2="173.57" y2="365.90" stroke="#000" stroke-width="1" stroke-linecap="butt"/>
<line x1="209.99" y1="364.40" x2="209.99" y2="365.90" stroke="#000" stroke-width="1" stroke-linecap="butt"/>
<text x="37.80" y="217.30" font-size="8.7" text-anchor="end" fill="#000" font-family="Liberation Sans" font-weight="bold" >900</text>
<text x="37.80" y="247.30" font-size="8.7" text-anchor="end" fill="#000" font-family="Liberation Sans" font-weight="bold" >750</text>
<text x="37.80" y="277.30" font-size="8.7" text-anchor="end" fill="#000" font-family="Liberation Sans" font-weight="bold" >600</text>
<text x="37.80" y="307.30" font-size="8.7" text-anchor="end" fill="#000" font-family="Liberation Sans" font-weight="bold" >450</text>
<text x="37.80" y="337.30" font-size="8.7" text-anchor="end" fill="#000" font-family="Liberation Sans" font-weight="bold" >300</text>
<text x="37.80" y="367.30" font-size="8.7" text-anchor="end" fill="#000" font-family="Liberation Sans" font-weight="bold" >150</text>
<text x="46.10" y="376.20" font-size="8.7" text-anchor="middle" fill="#000" font-family="Liberation Sans" font-weight="bold" >0</text>
<text x="82.52" y="376.20" font-size="8.7" text-anchor="middle" fill="#000" font-family="Liberation Sans" font-weight="bold" >100</text>
<text x="118.94" y="376.20" font-size="8.7" text-anchor="middle" fill="#000" font-family="Liberation Sans" font-weight="bold" >200</text>
<text x="155.36" y="376.20" font-size="8.7" text-anchor="middle" fill="#000" font-family="Liberation Sans" font-weight="bold" >300</text>
<text x="191.78" y="376.20" font-size="8.7" text-anchor="middle" fill="#000" font-family="Liberation Sans" font-weight="bold" >400</text>
<text x="228.20" y="376.20" font-size="8.7" text-anchor="middle" fill="#000" font-family="Liberation Sans" font-weight="bold" >500</text>
<text x="138.90" y="387.80" font-size="11.15" text-anchor="middle" fill="#000" font-family="Liberation Sans" font-weight="bold" >Cycle number</text>
<text transform="translate(20.20,290.70) rotate(-90)" font-size="11.55" text-anchor="middle" fill="#000" font-family="Liberation Sans" font-weight="bold">Specific capacitance (F g<tspan font-size="5.6" dy="-7.30">-1</tspan><tspan dy="7.30">)</tspan></text>
<text x="138.00" y="436.00" font-size="23.6" text-anchor="middle" fill="#000" font-family="Liberation Sans" font-weight="bold" >(d)</text>
<path d="M46.50,298.30 L64.50,298.30 L67.40,276.50 L82.80,276.50 L85.80,298.30 L101.20,298.30 L104.10,320.50 L119.10,320.50 L122.70,345.10 L137.40,345.10 L140.20,320.30 L226.50,320.30" fill="none" stroke="#555" stroke-width="0.6" stroke-linejoin="round" stroke-linecap="round" />
<path d="M46.50,248.70 L64.50,248.70 L67.40,220.50 L82.80,220.50 L85.80,248.70 L101.20,248.70 L104.10,273.10 L119.10,273.10 L122.70,287.50 L137.40,287.50 L140.20,273.10 L226.50,272.90" fill="none" stroke="#ff0000" stroke-width="0.6" stroke-linejoin="round" stroke-linecap="round" />
<path d="M46.50,295.30 L50.00,301.30 L43.00,301.30 Z" fill="#fff" stroke="#666" stroke-width="0.8" stroke-linejoin="round"/>
<path d="M46.50,295.00 L49.07,299.02 L43.93,299.02 Z" fill="#000"/>
<path d="M50.10,295.30 L53.60,301.30 L46.60,301.30 Z" fill="#fff" stroke="#666" stroke-width="0.8" stroke-linejoin="round"/>
<path d="M50.10,295.00 L52.67,299.02 L47.53,299.02 Z" fill="#000"/>
<path d="M53.70,295.30 L57.20,301.30 L50.20,301.30 Z" fill="#fff" stroke="#666" stroke-width="0.8" stroke-linejoin="round"/>
<path d="M53.70,295.00 L56.27,299.02 L51.13,299.02 Z" fill="#000"/>
<path d="M57.30,295.30 L60.80,301.30 L53.80,301.30 Z" fill="#fff" stroke="#666" stroke-width="0.8" stroke-linejoin="round"/>
<path d="M57.30,295.00 L59.87,299.02 L54.73,299.02 Z" fill="#000"/>
<path d="M60.90,295.30 L64.40,301.30 L57.40,301.30 Z" fill="#fff" stroke="#666" stroke-width="0.8" stroke-linejoin="round"/>
<path d="M60.90,295.00 L63.47,299.02 L58.33,299.02 Z" fill="#000"/>
<path d="M64.50,295.30 L68.00,301.30 L61.00,301.30 Z" fill="#fff" stroke="#666" stroke-width="0.8" stroke-linejoin="round"/>
<path d="M64.50,295.00 L67.07,299.02 L61.93,299.02 Z" fill="#000"/>
<path d="M67.40,273.50 L70.90,279.50 L63.90,279.50 Z" fill="#fff" stroke="#666" stroke-width="0.8" stroke-linejoin="round"/>
<path d="M67.40,273.20 L69.97,277.22 L64.83,277.22 Z" fill="#000"/>
<path d="M70.48,273.50 L73.98,279.50 L66.98,279.50 Z" fill="#fff" stroke="#666" stroke-width="0.8" stroke-linejoin="round"/>
<path d="M70.48,273.20 L73.05,277.22 L67.91,277.22 Z" fill="#000"/>
<path d="M73.56,273.50 L77.06,279.50 L70.06,279.50 Z" fill="#fff" stroke="#666" stroke-width="0.8" stroke-linejoin="round"/>
<path d="M73.56,273.20 L76.13,277.22 L70.99,277.22 Z" fill="#000"/>
<path d="M76.64,273.50 L80.14,279.50 L73.14,279.50 Z" fill="#fff" stroke="#666" stroke-width="0.8" stroke-linejoin="round"/>
<path d="M76.64,273.20 L79.21,277.22 L74.07,277.22 Z" fill="#000"/>
<path d="M79.72,273.50 L83.22,279.50 L76.22,279.50 Z" fill="#fff" stroke="#666" stroke-width="0.8" stroke-linejoin="round"/>
<path d="M79.72,273.20 L82.29,277.22 L77.15,277.22 Z" fill="#000"/>
<path d="M82.80,273.50 L86.30,279.50 L79.30,279.50 Z" fill="#fff" stroke="#666" stroke-width="0.8" stroke-linejoin="round"/>
<path d="M82.80,273.20 L85.37,277.22 L80.23,277.22 Z" fill="#000"/>
<path d="M85.80,295.30 L89.30,301.30 L82.30,301.30 Z" fill="#fff" stroke="#666" stroke-width="0.8" stroke-linejoin="round"/>
<path d="M85.80,295.00 L88.37,299.02 L83.23,299.02 Z" fill="#000"/>
<path d="M88.88,295.30 L92.38,301.30 L85.38,301.30 Z" fill="#fff" stroke="#666" stroke-width="0.8" stroke-linejoin="round"/>
<path d="M88.88,295.00 L91.45,299.02 L86.31,299.02 Z" fill="#000"/>
<path d="M91.96,295.30 L95.46,301.30 L88.46,301.30 Z" fill="#fff" stroke="#666" stroke-width="0.8" stroke-linejoin="round"/>
<path d="M91.96,295.00 L94.53,299.02 L89.39,299.02 Z" fill="#000"/>
<path d="M95.04,295.30 L98.54,301.30 L91.54,301.30 Z" fill="#fff" stroke="#666" stroke-width="0.8" stroke-linejoin="round"/>
<path d="M95.04,295.00 L97.61,299.02 L92.47,299.02 Z" fill="#000"/>
<path d="M98.12,295.30 L101.62,301.30 L94.62,301.30 Z" fill="#fff" stroke="#666" stroke-width="0.8" stroke-linejoin="round"/>
<path d="M98.12,295.00 L100.69,299.02 L95.55,299.02 Z" fill="#000"/>
<path d="M101.20,295.30 L104.70,301.30 L97.70,301.30 Z" fill="#fff" stroke="#666" stroke-width="0.8" stroke-linejoin="round"/>
<path d="M101.20,295.00 L103.77,299.02 L98.63,299.02 Z" fill="#000"/>
<path d="M104.10,317.50 L107.60,323.50 L100.60,323.50 Z" fill="#fff" stroke="#666" stroke-width="0.8" stroke-linejoin="round"/>
<path d="M104.10,317.20 L106.67,321.22 L101.53,321.22 Z" fill="#000"/>
<path d="M107.10,317.50 L110.60,323.50 L103.60,323.50 Z" fill="#fff" stroke="#666" stroke-width="0.8" stroke-linejoin="round"/>
<path d="M107.10,317.20 L109.67,321.22 L104.53,321.22 Z" fill="#000"/>
<path d="M110.10,317.50 L113.60,323.50 L106.60,323.50 Z" fill="#fff" stroke="#666" stroke-width="0.8" stroke-linejoin="round"/>
<path d="M110.10,317.20 L112.67,321.22 L107.53,321.22 Z" fill="#000"/>
<path d="M113.10,317.50 L116.60,323.50 L109.60,323.50 Z" fill="#fff" stroke="#666" stroke-width="0.8" stroke-linejoin="round"/>
<path d="M113.10,317.20 L115.67,321.22 L110.53,321.22 Z" fill="#000"/>
<path d="M116.10,317.50 L119.60,323.50 L112.60,323.50 Z" fill="#fff" stroke="#666" stroke-width="0.8" stroke-linejoin="round"/>
<path d="M116.10,317.20 L118.67,321.22 L113.53,321.22 Z" fill="#000"/>
<path d="M119.10,317.50 L122.60,323.50 L115.60,323.50 Z" fill="#fff" stroke="#666" stroke-width="0.8" stroke-linejoin="round"/>
<path d="M119.10,317.20 L121.67,321.22 L116.53,321.22 Z" fill="#000"/>
<path d="M122.70,342.10 L126.20,348.10 L119.20,348.10 Z" fill="#fff" stroke="#666" stroke-width="0.8" stroke-linejoin="round"/>
<path d="M122.70,341.80 L125.27,345.82 L120.13,345.82 Z" fill="#000"/>
<path d="M125.64,342.10 L129.14,348.10 L122.14,348.10 Z" fill="#fff" stroke="#666" stroke-width="0.8" stroke-linejoin="round"/>
<path d="M125.64,341.80 L128.21,345.82 L123.07,345.82 Z" fill="#000"/>
<path d="M128.58,342.10 L132.08,348.10 L125.08,348.10 Z" fill="#fff" stroke="#666" stroke-width="0.8" stroke-linejoin="round"/>
<path d="M128.58,341.80 L131.15,345.82 L126.01,345.82 Z" fill="#000"/>
<path d="M131.52,342.10 L135.02,348.10 L128.02,348.10 Z" fill="#fff" stroke="#666" stroke-width="0.8" stroke-linejoin="round"/>
<path d="M131.52,341.80 L134.09,345.82 L128.95,345.82 Z" fill="#000"/>
<path d="M134.46,342.10 L137.96,348.10 L130.96,348.10 Z" fill="#fff" stroke="#666" stroke-width="0.8" stroke-linejoin="round"/>
<path d="M134.46,341.80 L137.03,345.82 L131.89,345.82 Z" fill="#000"/>
<path d="M137.40,342.10 L140.90,348.10 L133.90,348.10 Z" fill="#fff" stroke="#666" stroke-width="0.8" stroke-linejoin="round"/>
<path d="M137.40,341.80 L139.97,345.82 L134.83,345.82 Z" fill="#000"/>
<path d="M140.20,317.30 L143.70,323.30 L136.70,323.30 Z" fill="#fff" stroke="#666" stroke-width="0.8" stroke-linejoin="round"/>
<path d="M140.20,317.00 L142.77,321.02 L137.63,321.02 Z" fill="#000"/>
<path d="M143.28,317.30 L146.78,323.30 L139.78,323.30 Z" fill="#fff" stroke="#666" stroke-width="0.8" stroke-linejoin="round"/>
<path d="M143.28,317.00 L145.85,321.02 L140.71,321.02 Z" fill="#000"/>
<path d="M146.36,317.30 L149.86,323.30 L142.86,323.30 Z" fill="#fff" stroke="#666" stroke-width="0.8" stroke-linejoin="round"/>
<path d="M146.36,317.00 L148.93,321.02 L143.79,321.02 Z" fill="#000"/>
<path d="M149.45,317.30 L152.95,323.30 L145.95,323.30 Z" fill="#fff" stroke="#666" stroke-width="0.8" stroke-linejoin="round"/>
<path d="M149.45,317.00 L152.02,321.02 L146.88,321.02 Z" fill="#000"/>
<path d="M152.53,317.30 L156.03,323.30 L149.03,323.30 Z" fill="#fff" stroke="#666" stroke-width="0.8" stroke-linejoin="round"/>
<path d="M152.53,317.00 L155.10,321.02 L149.96,321.02 Z" fill="#000"/>
<path d="M155.61,317.30 L159.11,323.30 L152.11,323.30 Z" fill="#fff" stroke="#666" stroke-width="0.8" stroke-linejoin="round"/>
<path d="M155.61,317.00 L158.18,321.02 L153.04,321.02 Z" fill="#000"/>
<path d="M158.69,317.30 L162.19,323.30 L155.19,323.30 Z" fill="#fff" stroke="#666" stroke-width="0.8" stroke-linejoin="round"/>
<path d="M158.69,317.00 L161.26,321.02 L156.12,321.02 Z" fill="#000"/>
<path d="M161.78,317.30 L165.28,323.30 L158.28,323.30 Z" fill="#fff" stroke="#666" stroke-width="0.8" stroke-linejoin="round"/>
<path d="M161.78,317.00 L164.34,321.02 L159.21,321.02 Z" fill="#000"/>
<path d="M164.86,317.30 L168.36,323.30 L161.36,323.30 Z" fill="#fff" stroke="#666" stroke-width="0.8" stroke-linejoin="round"/>
<path d="M164.86,317.00 L167.43,321.02 L162.29,321.02 Z" fill="#000"/>
<path d="M167.94,317.30 L171.44,323.30 L164.44,323.30 Z" fill="#fff" stroke="#666" stroke-width="0.8" stroke-linejoin="round"/>
<path d="M167.94,317.00 L170.51,321.02 L165.37,321.02 Z" fill="#000"/>
<path d="M171.02,317.30 L174.52,323.30 L167.52,323.30 Z" fill="#fff" stroke="#666" stroke-width="0.8" stroke-linejoin="round"/>
<path d="M171.02,317.00 L173.59,321.02 L168.45,321.02 Z" fill="#000"/>
<path d="M174.10,317.30 L177.60,323.30 L170.60,323.30 Z" fill="#fff" stroke="#666" stroke-width="0.8" stroke-linejoin="round"/>
<path d="M174.10,317.00 L176.67,321.02 L171.53,321.02 Z" fill="#000"/>
<path d="M177.19,317.30 L180.69,323.30 L173.69,323.30 Z" fill="#fff" stroke="#666" stroke-width="0.8" stroke-linejoin="round"/>
<path d="M177.19,317.00 L179.76,321.02 L174.62,321.02 Z" fill="#000"/>
<path d="M180.27,317.30 L183.77,323.30 L176.77,323.30 Z" fill="#fff" stroke="#666" stroke-width="0.8" stroke-linejoin="round"/>
<path d="M180.27,317.00 L182.84,321.02 L177.70,321.02 Z" fill="#000"/>
<path d="M183.35,317.30 L186.85,323.30 L179.85,323.30 Z" fill="#fff" stroke="#666" stroke-width="0.8" stroke-linejoin="round"/>
<path d="M183.35,317.00 L185.92,321.02 L180.78,321.02 Z" fill="#000"/>
<path d="M186.43,317.30 L189.93,323.30 L182.93,323.30 Z" fill="#fff" stroke="#666" stroke-width="0.8" stroke-linejoin="round"/>
<path d="M186.43,317.00 L189.00,321.02 L183.86,321.02 Z" fill="#000"/>
<path d="M189.51,317.30 L193.01,323.30 L186.01,323.30 Z" fill="#fff" stroke="#666" stroke-width="0.8" stroke-linejoin="round"/>
<path d="M189.51,317.00 L192.08,321.02 L186.94,321.02 Z" fill="#000"/>
<path d="M192.60,317.30 L196.10,323.30 L189.10,323.30 Z" fill="#fff" stroke="#666" stroke-width="0.8" stroke-linejoin="round"/>
<path d="M192.60,317.00 L195.17,321.02 L190.03,321.02 Z" fill="#000"/>
<path d="M195.68,317.30 L199.18,323.30 L192.18,323.30 Z" fill="#fff" stroke="#666" stroke-width="0.8" stroke-linejoin="round"/>
<path d="M195.68,317.00 L198.25,321.02 L193.11,321.02 Z" fill="#000"/>
<path d="M198.76,317.30 L202.26,323.30 L195.26,323.30 Z" fill="#fff" stroke="#666" stroke-width="0.8" stroke-linejoin="round"/>
<path d="M198.76,317.00 L201.33,321.02 L196.19,321.02 Z" fill="#000"/>
<path d="M201.84,317.30 L205.34,323.30 L198.34,323.30 Z" fill="#fff" stroke="#666" stroke-width="0.8" stroke-linejoin="round"/>
<path d="M201.84,317.00 L204.41,321.02 L199.27,321.02 Z" fill="#000"/>
<path d="M204.93,317.30 L208.43,323.30 L201.43,323.30 Z" fill="#fff" stroke="#666" stroke-width="0.8" stroke-linejoin="round"/>
<path d="M204.93,317.00 L207.50,321.02 L202.36,321.02 Z" fill="#000"/>
<path d="M208.01,317.30 L211.51,323.30 L204.51,323.30 Z" fill="#fff" stroke="#666" stroke-width="0.8" stroke-linejoin="round"/>
<path d="M208.01,317.00 L210.58,321.02 L205.44,321.02 Z" fill="#000"/>
<path d="M211.09,317.30 L214.59,323.30 L207.59,323.30 Z" fill="#fff" stroke="#666" stroke-width="0.8" stroke-linejoin="round"/>
<path d="M211.09,317.00 L213.66,321.02 L208.52,321.02 Z" fill="#000"/>
<path d="M214.17,317.30 L217.67,323.30 L210.67,323.30 Z" fill="#fff" stroke="#666" stroke-width="0.8" stroke-linejoin="round"/>
<path d="M214.17,317.00 L216.74,321.02 L211.60,321.02 Z" fill="#000"/>
<path d="M217.25,317.30 L220.75,323.30 L213.75,323.30 Z" fill="#fff" stroke="#666" stroke-width="0.8" stroke-linejoin="round"/>
<path d="M217.25,317.00 L219.82,321.02 L214.68,321.02 Z" fill="#000"/>
<path d="M220.34,317.30 L223.84,323.30 L216.84,323.30 Z" fill="#fff" stroke="#666" stroke-width="0.8" stroke-linejoin="round"/>
<path d="M220.34,317.00 L222.91,321.02 L217.77,321.02 Z" fill="#000"/>
<path d="M223.42,317.30 L226.92,323.30 L219.92,323.30 Z" fill="#fff" stroke="#666" stroke-width="0.8" stroke-linejoin="round"/>
<path d="M223.42,317.00 L225.99,321.02 L220.85,321.02 Z" fill="#000"/>
<path d="M226.50,317.30 L230.00,323.30 L223.00,323.30 Z" fill="#fff" stroke="#666" stroke-width="0.8" stroke-linejoin="round"/>
<path d="M226.50,317.00 L229.07,321.02 L223.93,321.02 Z" fill="#000"/>
<circle cx="46.50" cy="248.70" r="2.8" fill="#fff" stroke="#ff0000" stroke-width="0.8"/>
<path d="M43.30,248.70 A3.1999999999999997,3.1999999999999997 0 0 1 49.70,248.70 Z" fill="#ff0000"/>
<circle cx="50.10" cy="248.70" r="2.8" fill="#fff" stroke="#ff0000" stroke-width="0.8"/>
<path d="M46.90,248.70 A3.1999999999999997,3.1999999999999997 0 0 1 53.30,248.70 Z" fill="#ff0000"/>
<circle cx="53.70" cy="248.70" r="2.8" fill="#fff" stroke="#ff0000" stroke-width="0.8"/>
<path d="M50.50,248.70 A3.1999999999999997,3.1999999999999997 0 0 1 56.90,248.70 Z" fill="#ff0000"/>
<circle cx="57.30" cy="248.70" r="2.8" fill="#fff" stroke="#ff0000" stroke-width="0.8"/>
<path d="M54.10,248.70 A3.1999999999999997,3.1999999999999997 0 0 1 60.50,248.70 Z" fill="#ff0000"/>
<circle cx="60.90" cy="248.70" r="2.8" fill="#fff" stroke="#ff0000" stroke-width="0.8"/>
<path d="M57.70,248.70 A3.1999999999999997,3.1999999999999997 0 0 1 64.10,248.70 Z" fill="#ff0000"/>
<circle cx="64.50" cy="248.70" r="2.8" fill="#fff" stroke="#ff0000" stroke-width="0.8"/>
<path d="M61.30,248.70 A3.1999999999999997,3.1999999999999997 0 0 1 67.70,248.70 Z" fill="#ff0000"/>
<circle cx="67.40" cy="220.50" r="2.8" fill="#fff" stroke="#ff0000" stroke-width="0.8"/>
<path d="M64.20,220.50 A3.1999999999999997,3.1999999999999997 0 0 1 70.60,220.50 Z" fill="#ff0000"/>
<circle cx="70.48" cy="220.50" r="2.8" fill="#fff" stroke="#ff0000" stroke-width="0.8"/>
<path d="M67.28,220.50 A3.1999999999999997,3.1999999999999997 0 0 1 73.68,220.50 Z" fill="#ff0000"/>
<circle cx="73.56" cy="220.50" r="2.8" fill="#fff" stroke="#ff0000" stroke-width="0.8"/>
<path d="M70.36,220.50 A3.1999999999999997,3.1999999999999997 0 0 1 76.76,220.50 Z" fill="#ff0000"/>
<circle cx="76.64" cy="220.50" r="2.8" fill="#fff" stroke="#ff0000" stroke-width="0.8"/>
<path d="M73.44,220.50 A3.1999999999999997,3.1999999999999997 0 0 1 79.84,220.50 Z" fill="#ff0000"/>
<circle cx="79.72" cy="220.50" r="2.8" fill="#fff" stroke="#ff0000" stroke-width="0.8"/>
<path d="M76.52,220.50 A3.1999999999999997,3.1999999999999997 0 0 1 82.92,220.50 Z" fill="#ff0000"/>
<circle cx="82.80" cy="220.50" r="2.8" fill="#fff" stroke="#ff0000" stroke-width="0.8"/>
<path d="M79.60,220.50 A3.1999999999999997,3.1999999999999997 0 0 1 86.00,220.50 Z" fill="#ff0000"/>
<circle cx="85.80" cy="248.70" r="2.8" fill="#fff" stroke="#ff0000" stroke-width="0.8"/>
<path d="M82.60,248.70 A3.1999999999999997,3.1999999999999997 0 0 1 89.00,248.70 Z" fill="#ff0000"/>
<circle cx="88.88" cy="248.70" r="2.8" fill="#fff" stroke="#ff0000" stroke-width="0.8"/>
<path d="M85.68,248.70 A3.1999999999999997,3.1999999999999997 0 0 1 92.08,248.70 Z" fill="#ff0000"/>
<circle cx="91.96" cy="248.70" r="2.8" fill="#fff" stroke="#ff0000" stroke-width="0.8"/>
<path d="M88.76,248.70 A3.1999999999999997,3.1999999999999997 0 0 1 95.16,248.70 Z" fill="#ff0000"/>
<circle cx="95.04" cy="248.70" r="2.8" fill="#fff" stroke="#ff0000" stroke-width="0.8"/>
<path d="M91.84,248.70 A3.1999999999999997,3.1999999999999997 0 0 1 98.24,248.70 Z" fill="#ff0000"/>
<circle cx="98.12" cy="248.70" r="2.8" fill="#fff" stroke="#ff0000" stroke-width="0.8"/>
<path d="M94.92,248.70 A3.1999999999999997,3.1999999999999997 0 0 1 101.32,248.70 Z" fill="#ff0000"/>
<circle cx="101.20" cy="248.70" r="2.8" fill="#fff" stroke="#ff0000" stroke-width="0.8"/>
<path d="M98.00,248.70 A3.1999999999999997,3.1999999999999997 0 0 1 104.40,248.70 Z" fill="#ff0000"/>
<circle cx="104.10" cy="273.10" r="2.8" fill="#fff" stroke="#ff0000" stroke-width="0.8"/>
<path d="M100.90,273.10 A3.1999999999999997,3.1999999999999997 0 0 1 107.30,273.10 Z" fill="#ff0000"/>
<circle cx="107.10" cy="273.10" r="2.8" fill="#fff" stroke="#ff0000" stroke-width="0.8"/>
<path d="M103.90,273.10 A3.1999999999999997,3.1999999999999997 0 0 1 110.30,273.10 Z" fill="#ff0000"/>
<circle cx="110.10" cy="273.10" r="2.8" fill="#fff" stroke="#ff0000" stroke-width="0.8"/>
<path d="M106.90,273.10 A3.1999999999999997,3.1999999999999997 0 0 1 113.30,273.10 Z" fill="#ff0000"/>
<circle cx="113.10" cy="273.10" r="2.8" fill="#fff" stroke="#ff0000" stroke-width="0.8"/>
<path d="M109.90,273.10 A3.1999999999999997,3.1999999999999997 0 0 1 116.30,273.10 Z" fill="#ff0000"/>
<circle cx="116.10" cy="273.10" r="2.8" fill="#fff" stroke="#ff0000" stroke-width="0.8"/>
<path d="M112.90,273.10 A3.1999999999999997,3.1999999999999997 0 0 1 119.30,273.10 Z" fill="#ff0000"/>
<circle cx="119.10" cy="273.10" r="2.8" fill="#fff" stroke="#ff0000" stroke-width="0.8"/>
<path d="M115.90,273.10 A3.1999999999999997,3.1999999999999997 0 0 1 122.30,273.10 Z" fill="#ff0000"/>
<circle cx="122.70" cy="287.50" r="2.8" fill="#fff" stroke="#ff0000" stroke-width="0.8"/>
<path d="M119.50,287.50 A3.1999999999999997,3.1999999999999997 0 0 1 125.90,287.50 Z" fill="#ff0000"/>
<circle cx="125.64" cy="287.50" r="2.8" fill="#fff" stroke="#ff0000" stroke-width="0.8"/>
<path d="M122.44,287.50 A3.1999999999999997,3.1999999999999997 0 0 1 128.84,287.50 Z" fill="#ff0000"/>
<circle cx="128.58" cy="287.50" r="2.8" fill="#fff" stroke="#ff0000" stroke-width="0.8"/>
<path d="M125.38,287.50 A3.1999999999999997,3.1999999999999997 0 0 1 131.78,287.50 Z" fill="#ff0000"/>
<circle cx="131.52" cy="287.50" r="2.8" fill="#fff" stroke="#ff0000" stroke-width="0.8"/>
<path d="M128.32,287.50 A3.1999999999999997,3.1999999999999997 0 0 1 134.72,287.50 Z" fill="#ff0000"/>
<circle cx="134.46" cy="287.50" r="2.8" fill="#fff" stroke="#ff0000" stroke-width="0.8"/>
<path d="M131.26,287.50 A3.1999999999999997,3.1999999999999997 0 0 1 137.66,287.50 Z" fill="#ff0000"/>
<circle cx="137.40" cy="287.50" r="2.8" fill="#fff" stroke="#ff0000" stroke-width="0.8"/>
<path d="M134.20,287.50 A3.1999999999999997,3.1999999999999997 0 0 1 140.60,287.50 Z" fill="#ff0000"/>
<circle cx="140.20" cy="273.00" r="2.8" fill="#fff" stroke="#ff0000" stroke-width="0.8"/>
<path d="M137.00,273.00 A3.1999999999999997,3.1999999999999997 0 0 1 143.40,273.00 Z" fill="#ff0000"/>
<circle cx="143.28" cy="273.00" r="2.8" fill="#fff" stroke="#ff0000" stroke-width="0.8"/>
<path d="M140.08,273.00 A3.1999999999999997,3.1999999999999997 0 0 1 146.48,273.00 Z" fill="#ff0000"/>
<circle cx="146.36" cy="273.00" r="2.8" fill="#fff" stroke="#ff0000" stroke-width="0.8"/>
<path d="M143.16,273.00 A3.1999999999999997,3.1999999999999997 0 0 1 149.56,273.00 Z" fill="#ff0000"/>
<circle cx="149.45" cy="273.00" r="2.8" fill="#fff" stroke="#ff0000" stroke-width="0.8"/>
<path d="M146.25,273.00 A3.1999999999999997,3.1999999999999997 0 0 1 152.65,273.00 Z" fill="#ff0000"/>
<circle cx="152.53" cy="273.00" r="2.8" fill="#fff" stroke="#ff0000" stroke-width="0.8"/>
<path d="M149.33,273.00 A3.1999999999999997,3.1999999999999997 0 0 1 155.73,273.00 Z" fill="#ff0000"/>
<circle cx="155.61" cy="273.00" r="2.8" fill="#fff" stroke="#ff0000" stroke-width="0.8"/>
<path d="M152.41,273.00 A3.1999999999999997,3.1999999999999997 0 0 1 158.81,273.00 Z" fill="#ff0000"/>
<circle cx="158.69" cy="273.00" r="2.8" fill="#fff" stroke="#ff0000" stroke-width="0.8"/>
<path d="M155.49,273.00 A3.1999999999999997,3.1999999999999997 0 0 1 161.89,273.00 Z" fill="#ff0000"/>
<circle cx="161.78" cy="273.00" r="2.8" fill="#fff" stroke="#ff0000" stroke-width="0.8"/>
<path d="M158.57,273.00 A3.1999999999999997,3.1999999999999997 0 0 1 164.98,273.00 Z" fill="#ff0000"/>
<circle cx="164.86" cy="273.00" r="2.8" fill="#fff" stroke="#ff0000" stroke-width="0.8"/>
<path d="M161.66,273.00 A3.1999999999999997,3.1999999999999997 0 0 1 168.06,273.00 Z" fill="#ff0000"/>
<circle cx="167.94" cy="273.00" r="2.8" fill="#fff" stroke="#ff0000" stroke-width="0.8"/>
<path d="M164.74,273.00 A3.1999999999999997,3.1999999999999997 0 0 1 171.14,273.00 Z" fill="#ff0000"/>
<circle cx="171.02" cy="273.00" r="2.8" fill="#fff" stroke="#ff0000" stroke-width="0.8"/>
<path d="M167.82,273.00 A3.1999999999999997,3.1999999999999997 0 0 1 174.22,273.00 Z" fill="#ff0000"/>
<circle cx="174.10" cy="273.00" r="2.8" fill="#fff" stroke="#ff0000" stroke-width="0.8"/>
<path d="M170.90,273.00 A3.1999999999999997,3.1999999999999997 0 0 1 177.30,273.00 Z" fill="#ff0000"/>
<circle cx="177.19" cy="273.00" r="2.8" fill="#fff" stroke="#ff0000" stroke-width="0.8"/>
<path d="M173.99,273.00 A3.1999999999999997,3.1999999999999997 0 0 1 180.39,273.00 Z" fill="#ff0000"/>
<circle cx="180.27" cy="273.00" r="2.8" fill="#fff" stroke="#ff0000" stroke-width="0.8"/>
<path d="M177.07,273.00 A3.1999999999999997,3.1999999999999997 0 0 1 183.47,273.00 Z" fill="#ff0000"/>
<circle cx="183.35" cy="273.00" r="2.8" fill="#fff" stroke="#ff0000" stroke-width="0.8"/>
<path d="M180.15,273.00 A3.1999999999999997,3.1999999999999997 0 0 1 186.55,273.00 Z" fill="#ff0000"/>
<circle cx="186.43" cy="273.00" r="2.8" fill="#fff" stroke="#ff0000" stroke-width="0.8"/>
<path d="M183.23,273.00 A3.1999999999999997,3.1999999999999997 0 0 1 189.63,273.00 Z" fill="#ff0000"/>
<circle cx="189.51" cy="273.00" r="2.8" fill="#fff" stroke="#ff0000" stroke-width="0.8"/>
<path d="M186.31,273.00 A3.1999999999999997,3.1999999999999997 0 0 1 192.71,273.00 Z" fill="#ff0000"/>
<circle cx="192.60" cy="273.00" r="2.8" fill="#fff" stroke="#ff0000" stroke-width="0.8"/>
<path d="M189.40,273.00 A3.1999999999999997,3.1999999999999997 0 0 1 195.80,273.00 Z" fill="#ff0000"/>
<circle cx="195.68" cy="273.00" r="2.8" fill="#fff" stroke="#ff0000" stroke-width="0.8"/>
<path d="M192.48,273.00 A3.1999999999999997,3.1999999999999997 0 0 1 198.88,273.00 Z" fill="#ff0000"/>
<circle cx="198.76" cy="273.00" r="2.8" fill="#fff" stroke="#ff0000" stroke-width="0.8"/>
<path d="M195.56,273.00 A3.1999999999999997,3.1999999999999997 0 0 1 201.96,273.00 Z" fill="#ff0000"/>
<circle cx="201.84" cy="273.00" r="2.8" fill="#fff" stroke="#ff0000" stroke-width="0.8"/>
<path d="M198.64,273.00 A3.1999999999999997,3.1999999999999997 0 0 1 205.04,273.00 Z" fill="#ff0000"/>
<circle cx="204.93" cy="273.00" r="2.8" fill="#fff" stroke="#ff0000" stroke-width="0.8"/>
<path d="M201.72,273.00 A3.1999999999999997,3.1999999999999997 0 0 1 208.13,273.00 Z" fill="#ff0000"/>
<circle cx="208.01" cy="273.00" r="2.8" fill="#fff" stroke="#ff0000" stroke-width="0.8"/>
<path d="M204.81,273.00 A3.1999999999999997,3.1999999999999997 0 0 1 211.21,273.00 Z" fill="#ff0000"/>
<circle cx="211.09" cy="273.00" r="2.8" fill="#fff" stroke="#ff0000" stroke-width="0.8"/>
<path d="M207.89,273.00 A3.1999999999999997,3.1999999999999997 0 0 1 214.29,273.00 Z" fill="#ff0000"/>
<circle cx="214.17" cy="273.00" r="2.8" fill="#fff" stroke="#ff0000" stroke-width="0.8"/>
<path d="M210.97,273.00 A3.1999999999999997,3.1999999999999997 0 0 1 217.37,273.00 Z" fill="#ff0000"/>
<circle cx="217.25" cy="273.00" r="2.8" fill="#fff" stroke="#ff0000" stroke-width="0.8"/>
<path d="M214.05,273.00 A3.1999999999999997,3.1999999999999997 0 0 1 220.45,273.00 Z" fill="#ff0000"/>
<circle cx="220.34" cy="273.00" r="2.8" fill="#fff" stroke="#ff0000" stroke-width="0.8"/>
<path d="M217.14,273.00 A3.1999999999999997,3.1999999999999997 0 0 1 223.54,273.00 Z" fill="#ff0000"/>
<circle cx="223.42" cy="273.00" r="2.8" fill="#fff" stroke="#ff0000" stroke-width="0.8"/>
<path d="M220.22,273.00 A3.1999999999999997,3.1999999999999997 0 0 1 226.62,273.00 Z" fill="#ff0000"/>
<circle cx="226.50" cy="273.00" r="2.8" fill="#fff" stroke="#ff0000" stroke-width="0.8"/>
<path d="M223.30,273.00 A3.1999999999999997,3.1999999999999997 0 0 1 229.70,273.00 Z" fill="#ff0000"/>
<text x="45.10" y="242.70" font-size="8.2" text-anchor="start" fill="#000" font-family="Liberation Sans" font-weight="bold" >2 A g<tspan font-size="4.8" dy="-4.00">-1</tspan></text>
<text x="66.10" y="270.80" font-size="8.2" text-anchor="start" fill="#000" font-family="Liberation Sans" font-weight="bold" >1 A g<tspan font-size="4.8" dy="-4.00">-1</tspan></text>
<text x="90.00" y="240.20" font-size="8.2" text-anchor="start" fill="#000" font-family="Liberation Sans" font-weight="bold" >2 A g<tspan font-size="4.8" dy="-4.00">-1</tspan></text>
<text x="108.40" y="264.70" font-size="8.2" text-anchor="start" fill="#000" font-family="Liberation Sans" font-weight="bold" >5 A g<tspan font-size="4.8" dy="-4.00">-1</tspan></text>
<text x="166.20" y="266.20" font-size="8.2" text-anchor="start" fill="#000" font-family="Liberation Sans" font-weight="bold" >5 A g<tspan font-size="4.8" dy="-4.00">-1</tspan></text>
<text x="118.60" y="358.60" font-size="8.2" text-anchor="start" fill="#000" font-family="Liberation Sans" font-weight="bold" >10 A g<tspan font-size="4.8" dy="-4.00">-1</tspan></text>
<line x1="149.70" y1="226.50" x2="164.40" y2="226.50" stroke="#000" stroke-width="0.8" stroke-linecap="butt"/>
<path d="M157.20,223.50 L160.70,229.50 L153.70,229.50 Z" fill="#fff" stroke="#000" stroke-width="0.8" stroke-linejoin="round"/>
<path d="M157.20,223.20 L159.77,227.22 L154.63,227.22 Z" fill="#000"/>
<line x1="149.70" y1="237.40" x2="164.40" y2="237.40" stroke="#ff0000" stroke-width="0.8" stroke-linecap="butt"/>
<circle cx="157.20" cy="237.40" r="2.8" fill="#fff" stroke="#ff0000" stroke-width="0.8"/>
<path d="M154.00,237.40 A3.1999999999999997,3.1999999999999997 0 0 1 160.40,237.40 Z" fill="#ff0000"/>
<text x="167.80" y="228.90" font-size="8.3" text-anchor="start" fill="#000" font-family="Liberation Sans" font-weight="bold" >NC- 800</text>
<text x="167.80" y="239.80" font-size="8.3" text-anchor="start" fill="#000" font-family="Liberation Sans" font-weight="bold" >BNC- 800</text>
<path d="M293.00,221.30 L293.00,373.00 L480.50,373.00" fill="none" stroke="#000" stroke-width="1.95" stroke-linecap="square" stroke-linejoin="miter"/>
<line x1="290.20" y1="224.40" x2="293.00" y2="224.40" stroke="#000" stroke-width="1.5" stroke-linecap="butt"/>
<line x1="290.20" y1="250.69" x2="293.00" y2="250.69" stroke="#000" stroke-width="1.5" stroke-linecap="butt"/>
<line x1="290.20" y1="276.99" x2="293.00" y2="276.99" stroke="#000" stroke-width="1.5" stroke-linecap="butt"/>
<line x1="290.20" y1="303.29" x2="293.00" y2="303.29" stroke="#000" stroke-width="1.5" stroke-linecap="butt"/>
<line x1="290.20" y1="329.58" x2="293.00" y2="329.58" stroke="#000" stroke-width="1.5" stroke-linecap="butt"/>
<line x1="290.20" y1="355.88" x2="293.00" y2="355.88" stroke="#000" stroke-width="1.5" stroke-linecap="butt"/>
<line x1="291.50" y1="237.55" x2="293.00" y2="237.55" stroke="#000" stroke-width="1" stroke-linecap="butt"/>
<line x1="291.50" y1="263.84" x2="293.00" y2="263.84" stroke="#000" stroke-width="1" stroke-linecap="butt"/>
<line x1="291.50" y1="290.14" x2="293.00" y2="290.14" stroke="#000" stroke-width="1" stroke-linecap="butt"/>
<line x1="291.50" y1="316.43" x2="293.00" y2="316.43" stroke="#000" stroke-width="1" stroke-linecap="butt"/>
<line x1="291.50" y1="342.73" x2="293.00" y2="342.73" stroke="#000" stroke-width="1" stroke-linecap="butt"/>
<line x1="291.50" y1="369.02" x2="293.00" y2="369.02" stroke="#000" stroke-width="1" stroke-linecap="butt"/>
<line x1="297.00" y1="373.00" x2="297.00" y2="375.80" stroke="#000" stroke-width="1.5" stroke-linecap="butt"/>
<line x1="333.58" y1="373.00" x2="333.58" y2="375.80" stroke="#000" stroke-width="1.5" stroke-linecap="butt"/>
<line x1="370.16" y1="373.00" x2="370.16" y2="375.80" stroke="#000" stroke-width="1.5" stroke-linecap="butt"/>
<line x1="406.74" y1="373.00" x2="406.74" y2="375.80" stroke="#000" stroke-width="1.5" stroke-linecap="butt"/>
<line x1="443.32" y1="373.00" x2="443.32" y2="375.80" stroke="#000" stroke-width="1.5" stroke-linecap="butt"/>
<line x1="479.90" y1="373.00" x2="479.90" y2="375.80" stroke="#000" stroke-width="1.5" stroke-linecap="butt"/>
<line x1="315.29" y1="373.00" x2="315.29" y2="374.50" stroke="#000" stroke-width="1" stroke-linecap="butt"/>
<line x1="351.87" y1="373.00" x2="351.87" y2="374.50" stroke="#000" stroke-width="1" stroke-linecap="butt"/>
<line x1="388.45" y1="373.00" x2="388.45" y2="374.50" stroke="#000" stroke-width="1" stroke-linecap="butt"/>
<line x1="425.03" y1="373.00" x2="425.03" y2="374.50" stroke="#000" stroke-width="1" stroke-linecap="butt"/>
<line x1="461.61" y1="373.00" x2="461.61" y2="374.50" stroke="#000" stroke-width="1" stroke-linecap="butt"/>
<text x="287.80" y="227.40" font-size="8.7" text-anchor="end" fill="#000" font-family="Liberation Sans" font-weight="bold" >600</text>
<text x="287.80" y="253.69" font-size="8.7" text-anchor="end" fill="#000" font-family="Liberation Sans" font-weight="bold" >450</text>
<text x="287.80" y="279.99" font-size="8.7" text-anchor="end" fill="#000" font-family="Liberation Sans" font-weight="bold" >300</text>
<text x="287.80" y="306.29" font-size="8.7" text-anchor="end" fill="#000" font-family="Liberation Sans" font-weight="bold" >150</text>
<text x="287.80" y="332.58" font-size="8.7" text-anchor="end" fill="#000" font-family="Liberation Sans" font-weight="bold" >0</text>
<text x="287.80" y="358.88" font-size="8.7" text-anchor="end" fill="#000" font-family="Liberation Sans" font-weight="bold" >-150</text>
<text x="297.00" y="384.40" font-size="8.7" text-anchor="middle" fill="#000" font-family="Liberation Sans" font-weight="bold" >0</text>
<text x="333.58" y="384.40" font-size="8.7" text-anchor="middle" fill="#000" font-family="Liberation Sans" font-weight="bold" >1000</text>
<text x="370.16" y="384.40" font-size="8.7" text-anchor="middle" fill="#000" font-family="Liberation Sans" font-weight="bold" >2000</text>
<text x="406.74" y="384.40" font-size="8.7" text-anchor="middle" fill="#000" font-family="Liberation Sans" font-weight="bold" >3000</text>
<text x="443.32" y="384.40" font-size="8.7" text-anchor="middle" fill="#000" font-family="Liberation Sans" font-weight="bold" >4000</text>
<text x="479.90" y="384.40" font-size="8.7" text-anchor="middle" fill="#000" font-family="Liberation Sans" font-weight="bold" >5000</text>
<text x="393.70" y="396.60" font-size="11.3" text-anchor="middle" fill="#000" font-family="Liberation Sans" font-weight="bold" >Cycle number</text>
<text transform="translate(268.20,305.50) rotate(-90)" font-size="11.55" text-anchor="middle" fill="#000" font-family="Liberation Sans" font-weight="bold">Specific capacitance (F g<tspan font-size="5.6" dy="-7.30">-1</tspan><tspan dy="7.30">)</tspan></text>
<text x="355.30" y="431.20" font-size="23.6" text-anchor="middle" fill="#000" font-family="Liberation Sans" font-weight="bold" >(e)</text>
<clipPath id="ce"><rect x="293" y="200" width="187.5" height="173"/></clipPath><g clip-path="url(#ce)">
<path d="M297.00,221.00 L299.70,226.20 L294.30,226.20 Z" fill="#fff" stroke="#ff6666" stroke-width="0.7" stroke-linejoin="round"/>
<path d="M297.00,220.70 L299.02,224.12 L294.98,224.12 Z" fill="#ff0000"/>
<path d="M300.66,221.05 L303.36,226.25 L297.96,226.25 Z" fill="#fff" stroke="#ff6666" stroke-width="0.7" stroke-linejoin="round"/>
<path d="M300.66,220.75 L302.68,224.17 L298.64,224.17 Z" fill="#ff0000"/>
<path d="M306.14,221.13 L308.84,226.33 L303.44,226.33 Z" fill="#fff" stroke="#ff6666" stroke-width="0.7" stroke-linejoin="round"/>
<path d="M306.14,220.83 L308.16,224.25 L304.12,224.25 Z" fill="#ff0000"/>
<path d="M315.29,221.26 L317.99,226.46 L312.59,226.46 Z" fill="#fff" stroke="#ff6666" stroke-width="0.7" stroke-linejoin="round"/>
<path d="M315.29,220.96 L317.31,224.38 L313.27,224.38 Z" fill="#ff0000"/>
<path d="M333.58,221.52 L336.28,226.72 L330.88,226.72 Z" fill="#fff" stroke="#ff6666" stroke-width="0.7" stroke-linejoin="round"/>
<path d="M333.58,221.22 L335.60,224.64 L331.56,224.64 Z" fill="#ff0000"/>
<path d="M351.87,221.78 L354.57,226.98 L349.17,226.98 Z" fill="#fff" stroke="#ff6666" stroke-width="0.7" stroke-linejoin="round"/>
<path d="M351.87,221.48 L353.89,224.90 L349.85,224.90 Z" fill="#ff0000"/>
<path d="M370.16,222.04 L372.86,227.24 L367.46,227.24 Z" fill="#fff" stroke="#ff6666" stroke-width="0.7" stroke-linejoin="round"/>
<path d="M370.16,221.74 L372.18,225.16 L368.14,225.16 Z" fill="#ff0000"/>
<path d="M388.45,222.30 L391.15,227.50 L385.75,227.50 Z" fill="#fff" stroke="#ff6666" stroke-width="0.7" stroke-linejoin="round"/>
<path d="M388.45,222.00 L390.47,225.42 L386.43,225.42 Z" fill="#ff0000"/>
<path d="M406.74,222.56 L409.44,227.76 L404.04,227.76 Z" fill="#fff" stroke="#ff6666" stroke-width="0.7" stroke-linejoin="round"/>
<path d="M406.74,222.26 L408.76,225.68 L404.72,225.68 Z" fill="#ff0000"/>
<path d="M425.03,222.82 L427.73,228.02 L422.33,228.02 Z" fill="#fff" stroke="#ff6666" stroke-width="0.7" stroke-linejoin="round"/>
<path d="M425.03,222.52 L427.05,225.94 L423.01,225.94 Z" fill="#ff0000"/>
<path d="M443.32,223.08 L446.02,228.28 L440.62,228.28 Z" fill="#fff" stroke="#ff6666" stroke-width="0.7" stroke-linejoin="round"/>
<path d="M443.32,222.78 L445.34,226.20 L441.30,226.20 Z" fill="#ff0000"/>
<path d="M461.61,223.34 L464.31,228.54 L458.91,228.54 Z" fill="#fff" stroke="#ff6666" stroke-width="0.7" stroke-linejoin="round"/>
<path d="M461.61,223.04 L463.63,226.46 L459.59,226.46 Z" fill="#ff0000"/>
<path d="M479.90,223.60 L482.60,228.80 L477.20,228.80 Z" fill="#fff" stroke="#ff6666" stroke-width="0.7" stroke-linejoin="round"/>
<path d="M479.90,223.30 L481.92,226.72 L477.88,226.72 Z" fill="#ff0000"/>
<circle cx="297.00" cy="265.80" r="2.7" fill="#fff" stroke="#000" stroke-width="0.8"/>
<path d="M293.90,265.80 A3.1,3.1 0 0 1 300.10,265.80 Z" fill="#000"/>
<circle cx="300.66" cy="265.91" r="2.7" fill="#fff" stroke="#000" stroke-width="0.8"/>
<path d="M297.56,265.91 A3.1,3.1 0 0 1 303.76,265.91 Z" fill="#000"/>
<circle cx="306.14" cy="266.08" r="2.7" fill="#fff" stroke="#000" stroke-width="0.8"/>
<path d="M303.05,266.08 A3.1,3.1 0 0 1 309.24,266.08 Z" fill="#000"/>
<circle cx="315.29" cy="266.36" r="2.7" fill="#fff" stroke="#000" stroke-width="0.8"/>
<path d="M312.19,266.36 A3.1,3.1 0 0 1 318.39,266.36 Z" fill="#000"/>
<circle cx="333.58" cy="266.92" r="2.7" fill="#fff" stroke="#000" stroke-width="0.8"/>
<path d="M330.48,266.92 A3.1,3.1 0 0 1 336.68,266.92 Z" fill="#000"/>
<circle cx="351.87" cy="267.48" r="2.7" fill="#fff" stroke="#000" stroke-width="0.8"/>
<path d="M348.77,267.48 A3.1,3.1 0 0 1 354.97,267.48 Z" fill="#000"/>
<circle cx="370.16" cy="268.04" r="2.7" fill="#fff" stroke="#000" stroke-width="0.8"/>
<path d="M367.06,268.04 A3.1,3.1 0 0 1 373.26,268.04 Z" fill="#000"/>
<circle cx="388.45" cy="268.60" r="2.7" fill="#fff" stroke="#000" stroke-width="0.8"/>
<path d="M385.35,268.60 A3.1,3.1 0 0 1 391.55,268.60 Z" fill="#000"/>
<circle cx="406.74" cy="269.16" r="2.7" fill="#fff" stroke="#000" stroke-width="0.8"/>
<path d="M403.64,269.16 A3.1,3.1 0 0 1 409.84,269.16 Z" fill="#000"/>
<circle cx="425.03" cy="269.72" r="2.7" fill="#fff" stroke="#000" stroke-width="0.8"/>
<path d="M421.93,269.72 A3.1,3.1 0 0 1 428.13,269.72 Z" fill="#000"/>
<circle cx="443.32" cy="270.28" r="2.7" fill="#fff" stroke="#000" stroke-width="0.8"/>
<path d="M440.22,270.28 A3.1,3.1 0 0 1 446.42,270.28 Z" fill="#000"/>
<circle cx="461.61" cy="270.84" r="2.7" fill="#fff" stroke="#000" stroke-width="0.8"/>
<path d="M458.51,270.84 A3.1,3.1 0 0 1 464.71,270.84 Z" fill="#000"/>
<circle cx="479.90" cy="271.40" r="2.7" fill="#fff" stroke="#000" stroke-width="0.8"/>
<path d="M476.80,271.40 A3.1,3.1 0 0 1 483.00,271.40 Z" fill="#000"/>
<line x1="297.00" y1="224.40" x2="480.00" y2="227.00" stroke="#ff0000" stroke-width="1.8" stroke-linecap="butt"/>
<line x1="297.00" y1="266.20" x2="480.00" y2="271.60" stroke="#000" stroke-width="1.8" stroke-linecap="butt"/>
</g>
<text x="359.00" y="239.10" font-size="7.7" text-anchor="middle" fill="#000" font-family="Liberation Sans" font-weight="bold" >BNC</text>
<text x="358.30" y="282.20" font-size="7.7" text-anchor="middle" fill="#000" font-family="Liberation Sans" font-weight="bold" >NC</text>
<path d="M344.4,286.1 L344.4,355.6 L431.1,355.6" fill="none" stroke="#000" stroke-width="0.8"/>
<line x1="343.20" y1="286.72" x2="344.40" y2="286.72" stroke="#000" stroke-width="0.6" stroke-linecap="butt"/>
<text x="341.80" y="288.22" font-size="4.2" text-anchor="end" fill="#000" font-family="Liberation Sans" font-weight="bold" >0.2</text>
<line x1="343.20" y1="297.96" x2="344.40" y2="297.96" stroke="#000" stroke-width="0.6" stroke-linecap="butt"/>
<text x="341.80" y="299.46" font-size="4.2" text-anchor="end" fill="#000" font-family="Liberation Sans" font-weight="bold" >0.1</text>
<line x1="343.20" y1="309.20" x2="344.40" y2="309.20" stroke="#000" stroke-width="0.6" stroke-linecap="butt"/>
<text x="341.80" y="310.70" font-size="4.2" text-anchor="end" fill="#000" font-family="Liberation Sans" font-weight="bold" >0.0</text>
<line x1="343.20" y1="320.44" x2="344.40" y2="320.44" stroke="#000" stroke-width="0.6" stroke-linecap="butt"/>
<text x="341.80" y="321.94" font-size="4.2" text-anchor="end" fill="#000" font-family="Liberation Sans" font-weight="bold" >-0.1</text>
<line x1="343.20" y1="331.68" x2="344.40" y2="331.68" stroke="#000" stroke-width="0.6" stroke-linecap="butt"/>
<text x="341.80" y="333.18" font-size="4.2" text-anchor="end" fill="#000" font-family="Liberation Sans" font-weight="bold" >-0.2</text>
<line x1="343.20" y1="342.92" x2="344.40" y2="342.92" stroke="#000" stroke-width="0.6" stroke-linecap="butt"/>
<text x="341.80" y="344.42" font-size="4.2" text-anchor="end" fill="#000" font-family="Liberation Sans" font-weight="bold" >-0.3</text>
<line x1="343.20" y1="354.16" x2="344.40" y2="354.16" stroke="#000" stroke-width="0.6" stroke-linecap="butt"/>
<text x="341.80" y="355.66" font-size="4.2" text-anchor="end" fill="#000" font-family="Liberation Sans" font-weight="bold" >-0.4</text>
<line x1="345.40" y1="355.60" x2="345.40" y2="356.80" stroke="#000" stroke-width="0.6" stroke-linecap="butt"/>
<text x="345.40" y="360.50" font-size="4.2" text-anchor="middle" fill="#000" font-family="Liberation Sans" font-weight="bold" >0</text>
<line x1="364.27" y1="355.60" x2="364.27" y2="356.80" stroke="#000" stroke-width="0.6" stroke-linecap="butt"/>
<text x="364.27" y="360.50" font-size="4.2" text-anchor="middle" fill="#000" font-family="Liberation Sans" font-weight="bold" >50</text>
<line x1="383.15" y1="355.60" x2="383.15" y2="356.80" stroke="#000" stroke-width="0.6" stroke-linecap="butt"/>
<text x="383.15" y="360.50" font-size="4.2" text-anchor="middle" fill="#000" font-family="Liberation Sans" font-weight="bold" >100</text>
<line x1="402.02" y1="355.60" x2="402.02" y2="356.80" stroke="#000" stroke-width="0.6" stroke-linecap="butt"/>
<text x="402.02" y="360.50" font-size="4.2" text-anchor="middle" fill="#000" font-family="Liberation Sans" font-weight="bold" >150</text>
<line x1="420.90" y1="355.60" x2="420.90" y2="356.80" stroke="#000" stroke-width="0.6" stroke-linecap="butt"/>
<text x="420.90" y="360.50" font-size="4.2" text-anchor="middle" fill="#000" font-family="Liberation Sans" font-weight="bold" >200</text>
<text x="386.70" y="367.80" font-size="5.6" text-anchor="middle" fill="#000" font-family="Liberation Sans" font-weight="bold" >Time (s)</text>
<text transform="translate(333.20,319.30) rotate(-90)" font-size="5.2" text-anchor="middle" fill="#000" font-family="Liberation Sans" font-weight="bold">Potential (V vs. SCE)</text>
<path d="M345.40,351.40 L345.47,350.56 L345.48,349.68 L345.51,348.79 L345.55,347.91 L345.60,347.04 L345.66,346.17 L345.73,345.30 L345.82,344.43 L345.91,343.57 L346.02,342.71 L346.14,341.85 L346.26,340.99 L346.40,340.14 L346.55,339.29 L346.71,338.45 L346.88,337.60 L347.06,336.76 L347.24,335.92 L347.44,335.09 L347.65,334.25 L347.86,333.42 L348.09,332.60 L348.32,331.77 L348.56,330.95 L348.81,330.13 L349.06,329.31 L349.33,328.49 L349.60,327.68 L349.88,326.87 L350.16,326.06 L350.46,325.25 L350.76,324.45 L351.06,323.64 L351.38,322.84 L351.70,322.04 L352.02,321.25 L352.35,320.45 L352.69,319.66 L353.03,318.87 L353.38,318.08 L353.73,317.29 L354.09,316.51 L354.45,315.72 L354.82,314.94 L355.19,314.16 L355.56,313.38 L355.94,312.60 L356.33,311.82 L356.71,311.05 L357.10,310.27 L357.49,309.50 L357.89,308.73 L358.29,307.96 L358.69,307.19 L359.09,306.43 L359.50,305.66 L359.90,304.90 L360.31,304.13 L360.73,303.37 L361.14,302.61 L361.55,301.85 L361.97,301.09 L362.38,300.33 L362.80,299.57 L363.21,298.81 L363.63,298.05 L364.05,297.30 L364.47,296.54 L364.88,295.79 L365.30,295.03 L365.71,294.28 L366.13,293.53 L366.54,292.78 L366.95,292.02 L367.37,291.27 L367.77,290.52 L368.18,289.77 L368.59,289.02 L368.90,288.20" fill="none" stroke="#000" stroke-width="1.4" stroke-linejoin="round" stroke-linecap="round" />
<path d="M369.5,288.5 L371.5,302" fill="none" stroke="#000" stroke-width="0.8" stroke-linejoin="round" stroke-linecap="round" stroke-dasharray="0.8,1.2"/>
<path d="M371.80,300.50 L372.08,301.20 L372.37,301.89 L372.65,302.59 L372.93,303.29 L373.21,303.99 L373.49,304.68 L373.77,305.38 L374.05,306.08 L374.33,306.78 L374.61,307.48 L374.89,308.18 L375.16,308.88 L375.44,309.58 L375.72,310.28 L375.99,310.98 L376.27,311.68 L376.55,312.38 L376.82,313.08 L377.10,313.78 L377.38,314.48 L377.65,315.18 L377.93,315.88 L378.20,316.58 L378.48,317.28 L378.76,317.98 L379.04,318.68 L379.31,319.38 L379.59,320.08 L379.87,320.78 L380.15,321.48 L380.43,322.18 L380.71,322.88 L380.99,323.58 L381.27,324.28 L381.55,324.98 L381.84,325.67 L382.12,326.37 L382.41,327.07 L382.69,327.77 L382.98,328.46 L383.27,329.16 L383.56,329.85 L383.85,330.55 L384.14,331.24 L384.43,331.93 L384.72,332.63 L385.02,333.32 L385.32,334.01 L385.61,334.70 L385.91,335.39 L386.22,336.08 L386.52,336.77 L386.82,337.46 L387.13,338.15 L387.44,338.83 L387.75,339.52 L388.06,340.20 L388.37,340.89 L388.69,341.57 L389.01,342.25 L389.33,342.93 L389.65,343.61 L389.97,344.29 L390.30,344.97 L390.63,345.65 L390.96,346.32 L391.29,347.00 L391.63,347.67 L391.97,348.34 L392.31,349.01 L392.65,349.68 L393.00,350.35 L393.35,351.02 L393.70,351.69 L394.05,352.35 L394.41,353.02 L394.77,353.68 L395.13,354.34 L395.50,355.00" fill="none" stroke="#000" stroke-width="1.4" stroke-linejoin="round" stroke-linecap="round" />
<path d="M345.40,352.40 L345.40,351.38 L345.61,350.42 L345.83,349.46 L346.07,348.51 L346.32,347.57 L346.60,346.64 L346.88,345.71 L347.19,344.79 L347.50,343.89 L347.84,342.98 L348.18,342.09 L348.55,341.20 L348.92,340.32 L349.31,339.44 L349.71,338.57 L350.12,337.71 L350.55,336.85 L350.99,336.00 L351.43,335.16 L351.89,334.32 L352.36,333.48 L352.84,332.65 L353.33,331.83 L353.83,331.01 L354.34,330.19 L354.86,329.38 L355.39,328.58 L355.92,327.77 L356.46,326.97 L357.01,326.18 L357.57,325.39 L358.13,324.60 L358.70,323.81 L359.28,323.03 L359.86,322.25 L360.44,321.47 L361.03,320.69 L361.62,319.92 L362.22,319.15 L362.82,318.38 L363.43,317.61 L364.04,316.84 L364.65,316.08 L365.26,315.31 L365.87,314.55 L366.49,313.79 L367.11,313.02 L367.72,312.26 L368.34,311.50 L368.96,310.74 L369.57,309.97 L370.19,309.21 L370.81,308.45 L371.42,307.68 L372.03,306.92 L372.64,306.15 L373.24,305.38 L373.85,304.61 L374.45,303.84 L375.04,303.07 L375.63,302.29 L376.22,301.52 L376.80,300.74 L377.38,299.95 L377.95,299.17 L378.51,298.38 L379.07,297.59 L379.62,296.79 L380.17,295.99 L380.70,295.19 L381.23,294.39 L381.75,293.58 L382.27,292.76 L382.77,291.94 L383.26,291.12 L383.75,290.29 L384.22,289.46 L384.68,288.62 L385.20,287.80 L386.2,291.2 L390.3,300.4 L427,354.5" fill="none" stroke="#ff0000" stroke-width="1.4" stroke-linejoin="round" stroke-linecap="round" />
<text x="361.70" y="337.00" font-size="4.2" text-anchor="start" fill="#000" font-family="Liberation Sans" font-weight="bold" >@ 5 A g<tspan font-size="2.8" dy="-2.38">-1</tspan></text>
<text x="386.20" y="353.50" font-size="3.8" text-anchor="start" fill="#000" font-family="Liberation Sans" font-weight="bold" >NC</text>
<text x="414.80" y="353.50" font-size="3.8" text-anchor="start" fill="#000" font-family="Liberation Sans" font-weight="bold" >BNC</text>
<path d="M522.20,217.40 L522.20,376.70 L720.00,376.70" fill="none" stroke="#000" stroke-width="1.95" stroke-linecap="square" stroke-linejoin="miter"/>
<line x1="519.40" y1="376.80" x2="522.20" y2="376.80" stroke="#000" stroke-width="1.5" stroke-linecap="butt"/>
<line x1="519.40" y1="337.00" x2="522.20" y2="337.00" stroke="#000" stroke-width="1.5" stroke-linecap="butt"/>
<line x1="519.40" y1="297.20" x2="522.20" y2="297.20" stroke="#000" stroke-width="1.5" stroke-linecap="butt"/>
<line x1="519.40" y1="257.40" x2="522.20" y2="257.40" stroke="#000" stroke-width="1.5" stroke-linecap="butt"/>
<line x1="519.40" y1="217.60" x2="522.20" y2="217.60" stroke="#000" stroke-width="1.5" stroke-linecap="butt"/>
<line x1="520.70" y1="356.90" x2="522.20" y2="356.90" stroke="#000" stroke-width="1" stroke-linecap="butt"/>
<line x1="520.70" y1="317.10" x2="522.20" y2="317.10" stroke="#000" stroke-width="1" stroke-linecap="butt"/>
<line x1="520.70" y1="277.30" x2="522.20" y2="277.30" stroke="#000" stroke-width="1" stroke-linecap="butt"/>
<line x1="520.70" y1="237.50" x2="522.20" y2="237.50" stroke="#000" stroke-width="1" stroke-linecap="butt"/>
<line x1="522.60" y1="376.70" x2="522.60" y2="379.50" stroke="#000" stroke-width="1.5" stroke-linecap="butt"/>
<line x1="571.80" y1="376.70" x2="571.80" y2="379.50" stroke="#000" stroke-width="1.5" stroke-linecap="butt"/>
<line x1="621.00" y1="376.70" x2="621.00" y2="379.50" stroke="#000" stroke-width="1.5" stroke-linecap="butt"/>
<line x1="670.20" y1="376.70" x2="670.20" y2="379.50" stroke="#000" stroke-width="1.5" stroke-linecap="butt"/>
<line x1="719.40" y1="376.70" x2="719.40" y2="379.50" stroke="#000" stroke-width="1.5" stroke-linecap="butt"/>
<line x1="547.20" y1="376.70" x2="547.20" y2="378.20" stroke="#000" stroke-width="1" stroke-linecap="butt"/>
<line x1="596.40" y1="376.70" x2="596.40" y2="378.20" stroke="#000" stroke-width="1" stroke-linecap="butt"/>
<line x1="645.60" y1="376.70" x2="645.60" y2="378.20" stroke="#000" stroke-width="1" stroke-linecap="butt"/>
<line x1="694.80" y1="376.70" x2="694.80" y2="378.20" stroke="#000" stroke-width="1" stroke-linecap="butt"/>
<text x="516.60" y="379.90" font-size="8.8" text-anchor="end" fill="#000" font-family="Liberation Sans" font-weight="bold" >0</text>
<text x="522.60" y="388.30" font-size="8.8" text-anchor="middle" fill="#000" font-family="Liberation Sans" font-weight="bold" >0</text>
<text x="516.60" y="340.10" font-size="8.8" text-anchor="end" fill="#000" font-family="Liberation Sans" font-weight="bold" >10</text>
<text x="571.80" y="388.30" font-size="8.8" text-anchor="middle" fill="#000" font-family="Liberation Sans" font-weight="bold" >10</text>
<text x="516.60" y="300.30" font-size="8.8" text-anchor="end" fill="#000" font-family="Liberation Sans" font-weight="bold" >20</text>
<text x="621.00" y="388.30" font-size="8.8" text-anchor="middle" fill="#000" font-family="Liberation Sans" font-weight="bold" >20</text>
<text x="516.60" y="260.50" font-size="8.8" text-anchor="end" fill="#000" font-family="Liberation Sans" font-weight="bold" >30</text>
<text x="670.20" y="388.30" font-size="8.8" text-anchor="middle" fill="#000" font-family="Liberation Sans" font-weight="bold" >30</text>
<text x="516.60" y="220.70" font-size="8.8" text-anchor="end" fill="#000" font-family="Liberation Sans" font-weight="bold" >40</text>
<text x="719.40" y="388.30" font-size="8.8" text-anchor="middle" fill="#000" font-family="Liberation Sans" font-weight="bold" >40</text>
<text x="621.80" y="403.00" font-size="12.4" text-anchor="middle" fill="#000" font-family="Liberation Sans" font-weight="bold" >Z&#39; (Ohm cm<tspan font-size="6.4" dy="-6.40">2</tspan><tspan dy="6.40">)</tspan></text>
<text transform="translate(506.60,289.40) rotate(-90)" font-size="13.1" text-anchor="middle" fill="#000" font-family="Liberation Sans" font-weight="bold">-Z" (Ohm cm<tspan font-size="6.5" dy="-7.80">2</tspan><tspan dy="7.80">)</tspan></text>
<text x="615.80" y="432.40" font-size="23.6" text-anchor="middle" fill="#000" font-family="Liberation Sans" font-weight="bold" >(f)</text>
<path d="M628.70,242.40 L628.09,244.43 L627.26,246.37 L626.42,248.31 L625.57,250.24 L624.71,252.17 L623.83,254.08 L622.93,255.99 L622.03,257.90 L621.11,259.79 L620.17,261.68 L619.23,263.56 L618.27,265.44 L617.29,267.31 L616.31,269.17 L615.31,271.02 L614.30,272.87 L613.28,274.71 L612.24,276.55 L611.20,278.37 L610.14,280.19 L609.07,282.01 L607.99,283.81 L606.90,285.61 L605.79,287.40 L604.68,289.19 L603.55,290.97 L602.41,292.74 L601.26,294.51 L600.10,296.27 L598.93,298.02 L597.75,299.76 L596.56,301.50 L595.36,303.24 L594.15,304.96 L592.93,306.68 L591.70,308.39 L590.46,310.10 L589.22,311.80 L587.96,313.49 L586.69,315.18 L585.41,316.86 L584.13,318.53 L582.83,320.19 L581.53,321.86 L580.22,323.51 L578.90,325.16 L577.57,326.80 L576.24,328.43 L574.89,330.06 L573.54,331.68 L572.18,333.30 L570.81,334.90 L569.44,336.51 L568.06,338.10 L566.67,339.69 L565.27,341.28 L563.87,342.85 L562.46,344.42 L561.04,345.99 L559.62,347.55 L558.19,349.10 L556.76,350.64 L555.32,352.18 L553.87,353.72 L552.42,355.25 L550.96,356.77 L549.49,358.28 L548.02,359.79 L546.55,361.29 L545.07,362.79 L543.58,364.28 L542.09,365.77 L540.60,367.24 L539.10,368.72 L537.59,370.18 L536.09,371.64 L534.57,373.10 L533.06,374.55 L531.50,376.00" fill="none" stroke="#000" stroke-width="1.8" stroke-linejoin="round" stroke-linecap="round" />
<rect x="625.80" y="239.50" width="5.8" height="5.8" fill="#000"/>
<rect x="617.90" y="258.50" width="5.8" height="5.8" fill="#000"/>
<rect x="608.40" y="275.20" width="5.8" height="5.8" fill="#000"/>
<rect x="600.00" y="289.00" width="5.8" height="5.8" fill="#000"/>
<rect x="592.20" y="300.30" width="5.8" height="5.8" fill="#000"/>
<rect x="585.10" y="310.40" width="5.8" height="5.8" fill="#000"/>
<rect x="578.70" y="318.90" width="5.8" height="5.8" fill="#000"/>
<rect x="572.50" y="326.40" width="5.8" height="5.8" fill="#000"/>
<rect x="567.10" y="333.20" width="5.8" height="5.8" fill="#000"/>
<rect x="562.30" y="338.70" width="5.8" height="5.8" fill="#000"/>
<rect x="557.90" y="343.80" width="5.8" height="5.8" fill="#000"/>
<rect x="553.80" y="347.30" width="5.8" height="5.8" fill="#000"/>
<rect x="550.41" y="350.62" width="5.8" height="5.8" fill="#000"/>
<rect x="547.43" y="353.54" width="5.8" height="5.8" fill="#000"/>
<rect x="544.80" y="356.11" width="5.8" height="5.8" fill="#000"/>
<rect x="542.49" y="358.37" width="5.8" height="5.8" fill="#000"/>
<rect x="540.46" y="360.36" width="5.8" height="5.8" fill="#000"/>
<rect x="538.67" y="362.11" width="5.8" height="5.8" fill="#000"/>
<rect x="537.10" y="363.66" width="5.8" height="5.8" fill="#000"/>
<rect x="535.71" y="365.01" width="5.8" height="5.8" fill="#000"/>
<rect x="534.49" y="366.21" width="5.8" height="5.8" fill="#000"/>
<rect x="533.42" y="367.26" width="5.8" height="5.8" fill="#000"/>
<rect x="532.48" y="368.18" width="5.8" height="5.8" fill="#000"/>
<rect x="531.65" y="368.99" width="5.8" height="5.8" fill="#000"/>
<rect x="530.92" y="369.71" width="5.8" height="5.8" fill="#000"/>
<rect x="530.27" y="370.34" width="5.8" height="5.8" fill="#000"/>
<rect x="529.70" y="370.90" width="5.8" height="5.8" fill="#000"/>
<path d="M595.40,241.10 L595.04,242.99 L594.67,244.92 L594.28,246.84 L593.87,248.76 L593.43,250.67 L592.98,252.58 L592.51,254.48 L592.02,256.37 L591.51,258.25 L590.99,260.12 L590.44,261.99 L589.88,263.85 L589.30,265.71 L588.70,267.56 L588.09,269.40 L587.46,271.23 L586.81,273.06 L586.14,274.88 L585.46,276.69 L584.76,278.50 L584.05,280.30 L583.32,282.10 L582.58,283.89 L581.82,285.67 L581.05,287.44 L580.26,289.21 L579.46,290.98 L578.65,292.74 L577.82,294.49 L576.98,296.23 L576.12,297.97 L575.25,299.70 L574.37,301.43 L573.48,303.15 L572.57,304.87 L571.66,306.58 L570.73,308.28 L569.79,309.98 L568.84,311.68 L567.87,313.36 L566.90,315.05 L565.92,316.72 L564.92,318.40 L563.92,320.06 L562.91,321.72 L561.88,323.38 L560.85,325.03 L559.81,326.68 L558.76,328.32 L557.70,329.95 L556.64,331.58 L555.56,333.21 L554.48,334.83 L553.39,336.45 L552.29,338.06 L551.19,339.67 L550.08,341.27 L548.96,342.87 L547.84,344.46 L546.71,346.05 L545.58,347.63 L544.44,349.21 L543.30,350.79 L542.15,352.36 L540.99,353.93 L539.83,355.49 L538.67,357.05 L537.50,358.60 L536.33,360.15 L535.16,361.70 L533.98,363.24 L532.80,364.78 L531.62,366.32 L530.43,367.85 L529.24,369.38 L528.05,370.90 L526.86,372.42 L525.67,373.94 L524.50,375.50" fill="none" stroke="#ff0000" stroke-width="1.8" stroke-linejoin="round" stroke-linecap="round" />
<circle cx="595.40" cy="241.10" r="3.3" fill="#ff0000"/>
<circle cx="589.80" cy="264.10" r="3.3" fill="#ff0000"/>
<circle cx="583.50" cy="281.60" r="3.3" fill="#ff0000"/>
<circle cx="576.70" cy="296.40" r="3.3" fill="#ff0000"/>
<circle cx="570.60" cy="308.80" r="3.3" fill="#ff0000"/>
<circle cx="564.90" cy="318.60" r="3.3" fill="#ff0000"/>
<circle cx="559.80" cy="327.10" r="3.3" fill="#ff0000"/>
<circle cx="555.10" cy="333.90" r="3.3" fill="#ff0000"/>
<circle cx="551.00" cy="339.60" r="3.3" fill="#ff0000"/>
<circle cx="547.60" cy="344.70" r="3.3" fill="#ff0000"/>
<circle cx="544.10" cy="349.60" r="3.3" fill="#ff0000"/>
<circle cx="540.80" cy="353.75" r="3.3" fill="#ff0000"/>
<circle cx="537.90" cy="357.39" r="3.3" fill="#ff0000"/>
<circle cx="535.34" cy="360.61" r="3.3" fill="#ff0000"/>
<circle cx="533.09" cy="363.43" r="3.3" fill="#ff0000"/>
<circle cx="531.11" cy="365.92" r="3.3" fill="#ff0000"/>
<circle cx="529.37" cy="368.11" r="3.3" fill="#ff0000"/>
<circle cx="527.84" cy="370.03" r="3.3" fill="#ff0000"/>
<circle cx="526.49" cy="371.73" r="3.3" fill="#ff0000"/>
<circle cx="525.30" cy="373.22" r="3.3" fill="#ff0000"/>
<circle cx="525.00" cy="373.60" r="3.3" fill="#ff0000"/>
<line x1="650.30" y1="245.40" x2="666.90" y2="245.40" stroke="#000" stroke-width="1.8" stroke-linecap="butt"/>
<rect x="655.7" y="242.6" width="5.6" height="5.6" fill="#000"/>
<line x1="650.30" y1="257.20" x2="666.90" y2="257.20" stroke="#ff0000" stroke-width="1.8" stroke-linecap="butt"/>
<circle cx="658.5" cy="257.2" r="3.3" fill="#ff0000"/>
<text x="669.20" y="248.40" font-size="9.4" text-anchor="start" fill="#000" font-family="Liberation Sans" font-weight="bold" >NC</text>
<text x="669.20" y="260.20" font-size="9.4" text-anchor="start" fill="#000" font-family="Liberation Sans" font-weight="bold" >BNC</text>
<path d="M634.4,287.8 L634.4,352.9 L707.9,352.9" fill="none" stroke="#000" stroke-width="0.9"/>
<line x1="633.20" y1="352.90" x2="634.40" y2="352.90" stroke="#000" stroke-width="0.7" stroke-linecap="butt"/>
<text x="632.70" y="354.30" font-size="4.0" text-anchor="end" fill="#000" font-family="Liberation Sans" font-weight="bold" >0.0</text>
<line x1="634.40" y1="352.90" x2="634.40" y2="354.10" stroke="#000" stroke-width="0.7" stroke-linecap="butt"/>
<text x="634.40" y="358.60" font-size="4.0" text-anchor="middle" fill="#000" font-family="Liberation Sans" font-weight="bold" >0.0</text>
<line x1="633.20" y1="336.72" x2="634.40" y2="336.72" stroke="#000" stroke-width="0.7" stroke-linecap="butt"/>
<text x="632.70" y="338.12" font-size="4.0" text-anchor="end" fill="#000" font-family="Liberation Sans" font-weight="bold" >0.5</text>
<line x1="652.77" y1="352.90" x2="652.77" y2="354.10" stroke="#000" stroke-width="0.7" stroke-linecap="butt"/>
<text x="652.77" y="358.60" font-size="4.0" text-anchor="middle" fill="#000" font-family="Liberation Sans" font-weight="bold" >0.5</text>
<line x1="633.20" y1="320.55" x2="634.40" y2="320.55" stroke="#000" stroke-width="0.7" stroke-linecap="butt"/>
<text x="632.70" y="321.95" font-size="4.0" text-anchor="end" fill="#000" font-family="Liberation Sans" font-weight="bold" >1.0</text>
<line x1="671.15" y1="352.90" x2="671.15" y2="354.10" stroke="#000" stroke-width="0.7" stroke-linecap="butt"/>
<text x="671.15" y="358.60" font-size="4.0" text-anchor="middle" fill="#000" font-family="Liberation Sans" font-weight="bold" >1.0</text>
<line x1="633.20" y1="304.38" x2="634.40" y2="304.38" stroke="#000" stroke-width="0.7" stroke-linecap="butt"/>
<text x="632.70" y="305.77" font-size="4.0" text-anchor="end" fill="#000" font-family="Liberation Sans" font-weight="bold" >1.5</text>
<line x1="689.52" y1="352.90" x2="689.52" y2="354.10" stroke="#000" stroke-width="0.7" stroke-linecap="butt"/>
<text x="689.52" y="358.60" font-size="4.0" text-anchor="middle" fill="#000" font-family="Liberation Sans" font-weight="bold" >1.5</text>
<line x1="633.20" y1="288.20" x2="634.40" y2="288.20" stroke="#000" stroke-width="0.7" stroke-linecap="butt"/>
<text x="632.70" y="289.60" font-size="4.0" text-anchor="end" fill="#000" font-family="Liberation Sans" font-weight="bold" >2.0</text>
<line x1="707.90" y1="352.90" x2="707.90" y2="354.10" stroke="#000" stroke-width="0.7" stroke-linecap="butt"/>
<text x="707.90" y="358.60" font-size="4.0" text-anchor="middle" fill="#000" font-family="Liberation Sans" font-weight="bold" >2.0</text>
<text x="668.10" y="365.20" font-size="5.2" text-anchor="middle" fill="#000" font-family="Liberation Sans" font-weight="bold" >Z&#39; / Ohm cm<tspan font-size="3" dy="-2.60">2</tspan></text>
<text transform="translate(629.00,319.20) rotate(-90)" font-size="5.6" text-anchor="middle" fill="#000" font-family="Liberation Sans" font-weight="bold">-Z" / Ohm cm<tspan font-size="3.2" dy="-2.80">2</tspan></text>
<path d="M650.70,352.90 L650.79,351.90 L651.11,350.98 L651.43,350.07 L651.76,349.16 L652.09,348.25 L652.44,347.34 L652.78,346.44 L653.14,345.54 L653.50,344.64 L653.87,343.75 L654.24,342.86 L654.63,341.96 L655.01,341.08 L655.41,340.19 L655.81,339.31 L656.21,338.43 L656.62,337.55 L657.04,336.68 L657.46,335.80 L657.89,334.93 L658.33,334.06 L658.77,333.20 L659.21,332.34 L659.67,331.48 L660.12,330.62 L660.59,329.76 L661.05,328.91 L661.52,328.06 L662.00,327.21 L662.49,326.37 L662.97,325.53 L663.47,324.69 L663.96,323.85 L664.46,323.01 L664.97,322.18 L665.48,321.35 L666.00,320.53 L666.52,319.70 L667.04,318.88 L667.57,318.06 L668.11,317.24 L668.64,316.43 L669.18,315.62 L669.73,314.81 L670.28,314.00 L670.83,313.20 L671.39,312.40 L671.95,311.60 L672.52,310.80 L673.08,310.01 L673.66,309.22 L674.23,308.43 L674.81,307.65 L675.39,306.86 L675.98,306.08 L676.56,305.31 L677.16,304.53 L677.75,303.76 L678.35,302.99 L678.95,302.22 L679.55,301.46 L680.16,300.70 L680.76,299.94 L681.38,299.18 L681.99,298.43 L682.60,297.68 L683.22,296.93 L683.84,296.18 L684.47,295.44 L685.09,294.70 L685.72,293.96 L686.35,293.22 L686.98,292.49 L687.61,291.76 L688.25,291.03 L688.88,290.31 L689.52,289.59 L690.16,288.87 L690.90,288.20" fill="none" stroke="#ff0000" stroke-width="1.0" stroke-linejoin="round" stroke-linecap="round" />
<circle cx="651.50" cy="349.00" r="1.1" fill="#ff0000"/>
<circle cx="653.80" cy="342.00" r="1.1" fill="#ff0000"/>
<circle cx="656.50" cy="337.50" r="1.1" fill="#ff0000"/>
<circle cx="659.50" cy="332.00" r="1.1" fill="#ff0000"/>
<circle cx="662.80" cy="326.00" r="1.1" fill="#ff0000"/>
<circle cx="666.50" cy="320.00" r="1.1" fill="#ff0000"/>
<circle cx="670.50" cy="314.00" r="1.1" fill="#ff0000"/>
<circle cx="674.50" cy="308.00" r="1.1" fill="#ff0000"/>
<circle cx="679.00" cy="301.50" r="1.1" fill="#ff0000"/>
<circle cx="684.40" cy="295.30" r="1.1" fill="#ff0000"/>
<path d="M669.70,352.90 L669.73,352.10 L669.95,351.54 L670.20,351.00 L670.47,350.46 L670.76,349.94 L671.08,349.42 L671.41,348.92 L671.77,348.43 L672.14,347.94 L672.54,347.47 L672.95,347.00 L673.37,346.54 L673.81,346.09 L674.27,345.65 L674.74,345.21 L675.22,344.78 L675.72,344.36 L676.22,343.95 L676.74,343.53 L677.27,343.13 L677.80,342.73 L678.34,342.33 L678.89,341.94 L679.44,341.55 L680.00,341.17 L680.56,340.79 L681.13,340.41 L681.70,340.03 L682.27,339.66 L682.84,339.29 L683.40,338.92 L683.97,338.55 L684.54,338.18 L685.10,337.81 L685.66,337.44 L686.21,337.07 L686.75,336.70 L687.29,336.33 L687.83,335.95 L688.36,335.58 L688.88,335.20 L689.40,334.83 L689.91,334.45 L690.42,334.07 L690.93,333.69 L691.43,333.31 L691.93,332.92 L692.42,332.54 L692.91,332.15 L693.40,331.77 L693.89,331.38 L694.38,330.99 L694.86,330.59 L695.34,330.20 L695.82,329.80 L696.30,329.41 L696.79,329.01 L697.27,328.61 L697.75,328.21 L698.23,327.80 L698.71,327.40 L699.19,326.99 L699.68,326.58 L700.17,326.17 L700.66,325.76 L701.15,325.34 L701.64,324.92 L702.14,324.51 L702.64,324.08 L703.14,323.66 L703.65,323.24 L704.16,322.81 L704.68,322.38 L705.20,321.95 L705.73,321.51 L706.26,321.08 L706.80,320.64 L707.35,320.20 L707.90,319.80" fill="none" stroke="#000" stroke-width="1.3" stroke-linejoin="round" stroke-linecap="round" />
<rect x="669.00" y="350.00" width="2" height="2" fill="#000"/>
<rect x="669.70" y="348.00" width="2" height="2" fill="#000"/>
<rect x="670.80" y="346.30" width="2" height="2" fill="#000"/>
<rect x="672.40" y="345.00" width="2" height="2" fill="#000"/>
<rect x="674.50" y="343.60" width="2" height="2" fill="#000"/>
<rect x="677.00" y="342.00" width="2" height="2" fill="#000"/>
<rect x="680.00" y="340.00" width="2" height="2" fill="#000"/>
<rect x="683.00" y="337.80" width="2" height="2" fill="#000"/>
<rect x="686.50" y="335.20" width="2" height="2" fill="#000"/>
<rect x="690.00" y="332.50" width="2" height="2" fill="#000"/>
<rect x="694.00" y="329.30" width="2" height="2" fill="#000"/>
<rect x="698.00" y="326.30" width="2" height="2" fill="#000"/>
<rect x="702.00" y="322.90" width="2" height="2" fill="#000"/>
<rect x="706.50" y="319.20" width="2" height="2" fill="#000"/>
</svg>
</body></html>
